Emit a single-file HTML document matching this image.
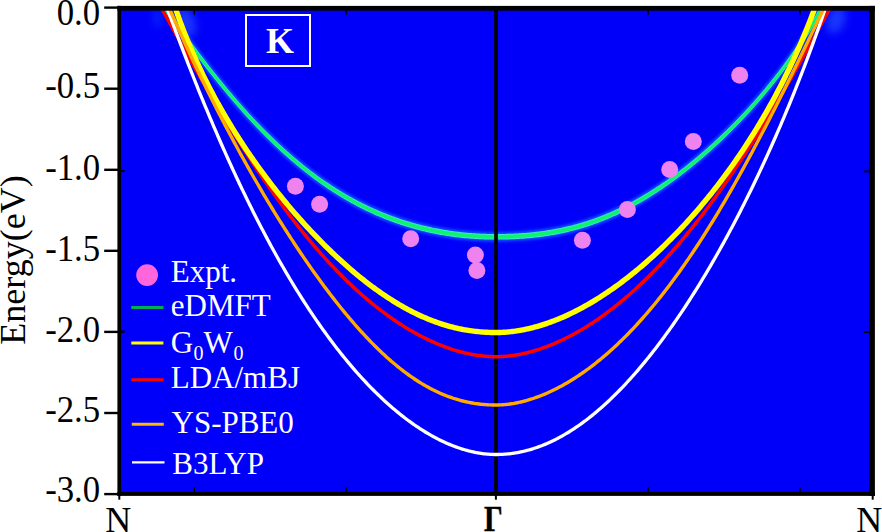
<!DOCTYPE html>
<html><head><meta charset="utf-8"><style>
html,body{margin:0;padding:0;background:#fff;}
body{width:882px;height:532px;overflow:hidden;}
svg{display:block;}
</style></head><body>
<svg width="882" height="532" viewBox="0 0 882 532">
<defs>
<clipPath id="pc"><rect x="121" y="8.5" width="749" height="484"/></clipPath>
<filter id="glow" x="-10%" y="-10%" width="120%" height="120%"><feGaussianBlur stdDeviation="1.6"/></filter>
<filter id="haze" x="-50%" y="-50%" width="200%" height="200%"><feGaussianBlur stdDeviation="4"/></filter>
<filter id="soft" x="-10%" y="-10%" width="120%" height="120%"><feGaussianBlur stdDeviation="0.5"/></filter>
</defs>
<rect x="0" y="0" width="882" height="532" fill="#fff"/>
<rect x="119" y="8" width="752" height="486" fill="#0000fa"/>
<g clip-path="url(#pc)" fill="none" stroke-linecap="butt" stroke-linejoin="round">
<ellipse cx="186" cy="22" rx="9" ry="16" fill="#3a78ff" opacity="0.45" filter="url(#haze)" transform="rotate(-20 186 22)"/>
<ellipse cx="158" cy="18" rx="5" ry="10" fill="#2a9cff" opacity="0.2" filter="url(#haze)"/>
<ellipse cx="836" cy="20" rx="9" ry="14" fill="#3a78ff" opacity="0.45" filter="url(#haze)" transform="rotate(20 836 20)"/>
<path d="M165.20 4.00 L166.26 5.52 L167.32 7.04 L168.38 8.55 L169.43 10.05 L170.48 11.56 L171.54 13.05 L172.59 14.54 L173.64 16.03 L174.69 17.51 L175.74 18.98 L176.78 20.45 L177.83 21.92 L178.88 23.38 L179.92 24.83 L180.96 26.28 L182.00 27.73 L183.04 29.17 L184.08 30.60 L185.12 32.03 L186.16 33.46 L187.20 34.87 L188.23 36.29 L189.27 37.70 L190.30 39.10 L191.33 40.50 L192.37 41.89 L193.40 43.28 L194.43 44.67 L195.46 46.05 L196.49 47.42 L197.52 48.79 L198.54 50.15 L199.57 51.51 L200.60 52.86 L201.62 54.21 L202.65 55.55 L203.67 56.89 L204.70 58.22 L205.72 59.55 L206.74 60.87 L207.76 62.19 L208.79 63.50 L209.81 64.81 L210.83 66.11 L211.85 67.41 L212.87 68.70 L213.89 69.99 L214.91 71.27 L215.92 72.55 L216.94 73.82 L217.96 75.08 L218.98 76.34 L219.99 77.60 L221.01 78.85 L222.03 80.10 L223.04 81.34 L224.06 82.57 L225.08 83.81 L226.09 85.03 L227.11 86.25 L228.12 87.47 L229.14 88.68 L230.15 89.88 L231.17 91.08 L232.18 92.28 L233.20 93.47 L234.21 94.65 L235.23 95.83 L236.24 97.01 L237.26 98.18 L238.27 99.34 L239.29 100.50 L240.30 101.65 L241.32 102.80 L242.33 103.95 L243.35 105.09 L244.36 106.22 L245.38 107.35 L246.39 108.47 L247.41 109.59 L248.43 110.71 L249.44 111.81 L250.46 112.92 L251.47 114.02 L252.49 115.11 L253.51 116.20 L254.52 117.28 L255.54 118.36 L256.56 119.43 L257.58 120.50 L258.60 121.56 L259.62 122.62 L260.64 123.67 L261.66 124.72 L262.68 125.76 L263.70 126.80 L264.72 127.83 L265.74 128.86 L266.76 129.88 L267.78 130.89 L268.81 131.91 L269.83 132.91 L270.85 133.91 L271.88 134.91 L272.90 135.90 L273.93 136.89 L274.95 137.87 L275.98 138.84 L277.01 139.81 L278.04 140.78 L279.06 141.74 L280.09 142.70 L281.12 143.65 L282.15 144.59 L283.19 145.53 L284.22 146.47 L285.25 147.40 L286.28 148.32 L287.32 149.24 L288.35 150.16 L289.39 151.07 L290.43 151.97 L291.46 152.87 L292.50 153.77 L293.54 154.65 L294.58 155.54 L295.62 156.42 L296.66 157.29 L297.71 158.16 L298.75 159.02 L299.79 159.88 L300.84 160.74 L301.89 161.59 L302.93 162.43 L303.98 163.27 L305.03 164.10 L306.08 164.93 L307.13 165.75 L308.18 166.57 L309.24 167.38 L310.29 168.19 L311.35 168.99 L312.40 169.79 L313.46 170.58 L314.52 171.37 L315.58 172.15 L316.64 172.93 L317.70 173.70 L318.76 174.47 L319.83 175.23 L320.89 175.99 L321.96 176.74 L323.03 177.49 L324.10 178.23 L325.17 178.96 L326.24 179.69 L327.31 180.42 L328.38 181.14 L329.46 181.86 L330.53 182.57 L331.61 183.27 L332.69 183.98 L333.77 184.67 L334.85 185.36 L335.93 186.05 L337.02 186.73 L338.10 187.40 L339.19 188.07 L340.28 188.74 L341.37 189.40 L342.46 190.05 L343.55 190.70 L344.64 191.35 L345.74 191.99 L346.83 192.62 L347.93 193.25 L349.03 193.87 L350.13 194.49 L351.23 195.11 L352.34 195.72 L353.44 196.32 L354.55 196.92 L355.65 197.51 L356.76 198.10 L357.87 198.69 L358.99 199.26 L360.10 199.84 L361.22 200.41 L362.33 200.97 L363.45 201.53 L364.57 202.08 L365.69 202.63 L366.82 203.17 L367.94 203.71 L369.07 204.24 L370.19 204.77 L371.32 205.29 L372.45 205.81 L373.59 206.32 L374.72 206.83 L375.86 207.33 L376.99 207.83 L378.13 208.32 L379.27 208.80 L380.42 209.29 L381.56 209.76 L382.71 210.23 L383.85 210.70 L385.00 211.16 L386.15 211.62 L387.31 212.07 L388.46 212.51 L389.62 212.95 L390.77 213.39 L391.93 213.82 L393.10 214.25 L394.26 214.67 L395.42 215.08 L396.59 215.49 L397.76 215.90 L398.93 216.30 L400.10 216.69 L401.27 217.08 L402.45 217.47 L403.62 217.85 L404.80 218.22 L405.98 218.59 L407.17 218.96 L408.35 219.31 L409.54 219.67 L410.72 220.02 L411.91 220.36 L413.11 220.70 L414.30 221.03 L415.49 221.36 L416.69 221.69 L417.89 222.01 L419.09 222.32 L420.29 222.63 L421.50 222.93 L422.70 223.23 L423.91 223.52 L425.12 223.81 L426.33 224.09 L427.55 224.37 L428.76 224.64 L429.98 224.91 L431.20 225.17 L432.42 225.43 L433.65 225.68 L434.87 225.93 L436.10 226.17 L437.33 226.41 L438.56 226.64 L439.79 226.87 L441.03 227.09 L442.26 227.31 L443.50 227.52 L444.74 227.72 L445.99 227.92 L447.23 228.12 L448.48 228.31 L449.73 228.50 L450.98 228.68 L452.23 228.85 L453.48 229.03 L454.74 229.19 L456.00 229.35 L457.26 229.51 L458.52 229.66 L459.79 229.80 L461.05 229.94 L462.32 230.08 L463.59 230.21 L464.86 230.33 L466.14 230.45 L467.41 230.57 L468.69 230.68 L469.97 230.78 L471.26 230.88 L472.54 230.97 L473.83 231.06 L475.11 231.15 L476.40 231.23 L477.70 231.30 L478.99 231.37 L480.29 231.43 L481.59 231.49 L482.89 231.55 L484.19 231.59 L485.49 231.64 L486.80 231.68 L488.11 231.71 L489.42 231.74 L490.73 231.76 L492.04 231.78 L493.36 231.79 L494.68 231.80 L496.00 231.80 L497.48 231.80 L498.95 231.79 L500.42 231.78 L501.87 231.76 L503.32 231.74 L504.76 231.71 L506.19 231.68 L507.62 231.64 L509.04 231.59 L510.45 231.55 L511.86 231.49 L513.26 231.43 L514.65 231.37 L516.03 231.30 L517.41 231.23 L518.78 231.15 L520.15 231.06 L521.51 230.97 L522.86 230.88 L524.20 230.78 L525.54 230.68 L526.88 230.57 L528.21 230.45 L529.53 230.33 L530.85 230.21 L532.16 230.08 L533.46 229.94 L534.76 229.80 L536.06 229.66 L537.34 229.51 L538.63 229.35 L539.91 229.19 L541.18 229.03 L542.45 228.85 L543.71 228.68 L544.97 228.50 L546.22 228.31 L547.47 228.12 L548.72 227.92 L549.96 227.72 L551.19 227.52 L552.42 227.31 L553.65 227.09 L554.87 226.87 L556.09 226.64 L557.30 226.41 L558.51 226.17 L559.72 225.93 L560.92 225.68 L562.12 225.43 L563.31 225.17 L564.50 224.91 L565.69 224.64 L566.87 224.37 L568.05 224.09 L569.23 223.81 L570.40 223.52 L571.57 223.23 L572.74 222.93 L573.90 222.63 L575.06 222.32 L576.22 222.01 L577.37 221.69 L578.53 221.36 L579.67 221.03 L580.82 220.70 L581.96 220.36 L583.10 220.02 L584.24 219.67 L585.37 219.31 L586.51 218.96 L587.64 218.59 L588.76 218.22 L589.89 217.85 L591.01 217.47 L592.13 217.08 L593.25 216.69 L594.37 216.30 L595.48 215.90 L596.59 215.49 L597.70 215.08 L598.81 214.67 L599.92 214.25 L601.02 213.82 L602.12 213.39 L603.22 212.95 L604.32 212.51 L605.42 212.07 L606.52 211.62 L607.61 211.16 L608.70 210.70 L609.79 210.23 L610.88 209.76 L611.97 209.29 L613.06 208.80 L614.14 208.32 L615.23 207.83 L616.31 207.33 L617.39 206.83 L618.47 206.32 L619.55 205.81 L620.63 205.29 L621.71 204.77 L622.79 204.24 L623.86 203.71 L624.94 203.17 L626.01 202.63 L627.08 202.08 L628.15 201.53 L629.23 200.97 L630.30 200.41 L631.37 199.84 L632.43 199.26 L633.50 198.69 L634.57 198.10 L635.64 197.51 L636.70 196.92 L637.77 196.32 L638.84 195.72 L639.90 195.11 L640.96 194.49 L642.03 193.87 L643.09 193.25 L644.15 192.62 L645.22 191.99 L646.28 191.35 L647.34 190.70 L648.40 190.05 L649.46 189.40 L650.53 188.74 L651.59 188.07 L652.65 187.40 L653.71 186.73 L654.77 186.05 L655.83 185.36 L656.89 184.67 L657.95 183.98 L659.01 183.27 L660.07 182.57 L661.12 181.86 L662.18 181.14 L663.24 180.42 L664.30 179.69 L665.36 178.96 L666.42 178.23 L667.48 177.49 L668.54 176.74 L669.60 175.99 L670.66 175.23 L671.71 174.47 L672.77 173.70 L673.83 172.93 L674.89 172.15 L675.95 171.37 L677.01 170.58 L678.07 169.79 L679.13 168.99 L680.19 168.19 L681.24 167.38 L682.30 166.57 L683.36 165.75 L684.42 164.93 L685.48 164.10 L686.54 163.27 L687.60 162.43 L688.66 161.59 L689.72 160.74 L690.78 159.88 L691.84 159.02 L692.90 158.16 L693.96 157.29 L695.02 156.42 L696.08 155.54 L697.14 154.65 L698.20 153.77 L699.26 152.87 L700.31 151.97 L701.37 151.07 L702.43 150.16 L703.49 149.24 L704.55 148.32 L705.61 147.40 L706.67 146.47 L707.73 145.53 L708.79 144.59 L709.85 143.65 L710.91 142.70 L711.97 141.74 L713.03 140.78 L714.08 139.81 L715.14 138.84 L716.20 137.87 L717.26 136.89 L718.32 135.90 L719.37 134.91 L720.43 133.91 L721.49 132.91 L722.54 131.91 L723.60 130.89 L724.65 129.88 L725.71 128.86 L726.76 127.83 L727.82 126.80 L728.87 125.76 L729.93 124.72 L730.98 123.67 L732.03 122.62 L733.08 121.56 L734.13 120.50 L735.18 119.43 L736.23 118.36 L737.28 117.28 L738.33 116.20 L739.38 115.11 L740.43 114.02 L741.47 112.92 L742.52 111.81 L743.56 110.71 L744.61 109.59 L745.65 108.47 L746.69 107.35 L747.73 106.22 L748.77 105.09 L749.81 103.95 L750.84 102.80 L751.88 101.65 L752.91 100.50 L753.95 99.34 L754.98 98.18 L756.01 97.01 L757.04 95.83 L758.07 94.65 L759.09 93.47 L760.12 92.28 L761.14 91.08 L762.17 89.88 L763.19 88.68 L764.20 87.47 L765.22 86.25 L766.24 85.03 L767.25 83.81 L768.26 82.57 L769.27 81.34 L770.28 80.10 L771.28 78.85 L772.29 77.60 L773.29 76.34 L774.29 75.08 L775.28 73.82 L776.28 72.55 L777.27 71.27 L778.26 69.99 L779.25 68.70 L780.23 67.41 L781.21 66.11 L782.19 64.81 L783.17 63.50 L784.14 62.19 L785.12 60.87 L786.08 59.55 L787.05 58.22 L788.01 56.89 L788.97 55.55 L789.93 54.21 L790.88 52.86 L791.83 51.51 L792.78 50.15 L793.72 48.79 L794.66 47.42 L795.60 46.05 L796.53 44.67 L797.46 43.28 L798.39 41.89 L799.31 40.50 L800.23 39.10 L801.14 37.70 L802.05 36.29 L802.96 34.87 L803.86 33.46 L804.76 32.03 L805.65 30.60 L806.54 29.17 L807.43 27.73 L808.31 26.28 L809.19 24.83 L810.06 23.38 L810.92 21.92 L811.79 20.45 L812.64 18.98 L813.50 17.51 L814.34 16.03 L815.18 14.54 L816.02 13.05 L816.85 11.56 L817.68 10.05 L818.50 8.55 L819.32 7.04 L820.13 5.52 L820.93 4.00 L820.93 14.00 L820.13 15.52 L819.32 17.04 L818.50 18.55 L817.68 20.05 L816.85 21.56 L816.02 23.05 L815.18 24.54 L814.34 26.03 L813.50 27.51 L812.64 28.98 L811.79 30.45 L810.92 31.92 L810.06 33.38 L809.19 34.83 L808.31 36.28 L807.43 37.73 L806.54 39.17 L805.65 40.60 L804.76 42.03 L803.86 43.46 L802.96 44.87 L802.05 46.29 L801.14 47.70 L800.23 49.10 L799.31 50.50 L798.39 51.89 L797.46 53.28 L796.53 54.67 L795.60 56.05 L794.66 57.42 L793.72 58.79 L792.78 60.15 L791.83 61.51 L790.88 62.86 L789.93 64.21 L788.97 65.55 L788.01 66.89 L787.05 68.22 L786.08 69.55 L785.12 70.87 L784.14 72.19 L783.17 73.50 L782.19 74.81 L781.21 76.11 L780.23 77.41 L779.25 78.70 L778.26 79.99 L777.27 81.27 L776.28 82.55 L775.28 83.82 L774.29 85.08 L773.29 86.34 L772.29 87.60 L771.28 88.85 L770.28 90.10 L769.27 91.34 L768.26 92.57 L767.25 93.81 L766.24 95.03 L765.22 96.25 L764.20 97.47 L763.19 98.68 L762.17 99.88 L761.14 101.08 L760.12 102.28 L759.09 103.47 L758.07 104.65 L757.04 105.83 L756.01 107.01 L754.98 108.18 L753.95 109.34 L752.91 110.50 L751.88 111.65 L750.84 112.80 L749.81 113.95 L748.77 115.09 L747.73 116.22 L746.69 117.35 L745.65 118.47 L744.61 119.59 L743.56 120.71 L742.52 121.81 L741.47 122.92 L740.43 124.02 L739.38 125.11 L738.33 126.20 L737.28 127.28 L736.23 128.36 L735.18 129.43 L734.13 130.50 L733.08 131.56 L732.03 132.62 L730.98 133.67 L729.93 134.72 L728.87 135.76 L727.82 136.80 L726.76 137.83 L725.71 138.86 L724.65 139.88 L723.60 140.89 L722.54 141.91 L721.49 142.91 L720.43 143.91 L719.37 144.91 L718.32 145.90 L717.26 146.89 L716.20 147.87 L715.14 148.84 L714.08 149.81 L713.03 150.78 L711.97 151.74 L710.91 152.70 L709.85 153.65 L708.79 154.59 L707.73 155.53 L706.67 156.47 L705.61 157.40 L704.55 158.32 L703.49 159.24 L702.43 160.16 L701.37 161.07 L700.31 161.97 L699.26 162.87 L698.20 163.77 L697.14 164.65 L696.08 165.54 L695.02 166.42 L693.96 167.29 L692.90 168.16 L691.84 169.02 L690.78 169.88 L689.72 170.74 L688.66 171.59 L687.60 172.43 L686.54 173.27 L685.48 174.10 L684.42 174.93 L683.36 175.75 L682.30 176.57 L681.24 177.38 L680.19 178.19 L679.13 178.99 L678.07 179.79 L677.01 180.58 L675.95 181.37 L674.89 182.15 L673.83 182.93 L672.77 183.70 L671.71 184.47 L670.66 185.23 L669.60 185.99 L668.54 186.74 L667.48 187.49 L666.42 188.23 L665.36 188.96 L664.30 189.69 L663.24 190.42 L662.18 191.14 L661.12 191.86 L660.07 192.57 L659.01 193.27 L657.95 193.98 L656.89 194.67 L655.83 195.36 L654.77 196.05 L653.71 196.73 L652.65 197.40 L651.59 198.07 L650.53 198.74 L649.46 199.40 L648.40 200.05 L647.34 200.70 L646.28 201.35 L645.22 201.99 L644.15 202.62 L643.09 203.25 L642.03 203.87 L640.96 204.49 L639.90 205.11 L638.84 205.72 L637.77 206.32 L636.70 206.92 L635.64 207.51 L634.57 208.10 L633.50 208.69 L632.43 209.26 L631.37 209.84 L630.30 210.41 L629.23 210.97 L628.15 211.53 L627.08 212.08 L626.01 212.63 L624.94 213.17 L623.86 213.71 L622.79 214.24 L621.71 214.77 L620.63 215.29 L619.55 215.81 L618.47 216.32 L617.39 216.83 L616.31 217.33 L615.23 217.83 L614.14 218.32 L613.06 218.80 L611.97 219.29 L610.88 219.76 L609.79 220.23 L608.70 220.70 L607.61 221.16 L606.52 221.62 L605.42 222.07 L604.32 222.51 L603.22 222.95 L602.12 223.39 L601.02 223.82 L599.92 224.25 L598.81 224.67 L597.70 225.08 L596.59 225.49 L595.48 225.90 L594.37 226.30 L593.25 226.69 L592.13 227.08 L591.01 227.47 L589.89 227.85 L588.76 228.22 L587.64 228.59 L586.51 228.96 L585.37 229.31 L584.24 229.67 L583.10 230.02 L581.96 230.36 L580.82 230.70 L579.67 231.03 L578.53 231.36 L577.37 231.69 L576.22 232.01 L575.06 232.32 L573.90 232.63 L572.74 232.93 L571.57 233.23 L570.40 233.52 L569.23 233.81 L568.05 234.09 L566.87 234.37 L565.69 234.64 L564.50 234.91 L563.31 235.17 L562.12 235.43 L560.92 235.68 L559.72 235.93 L558.51 236.17 L557.30 236.41 L556.09 236.64 L554.87 236.87 L553.65 237.09 L552.42 237.31 L551.19 237.52 L549.96 237.72 L548.72 237.92 L547.47 238.12 L546.22 238.31 L544.97 238.50 L543.71 238.68 L542.45 238.85 L541.18 239.03 L539.91 239.19 L538.63 239.35 L537.34 239.51 L536.06 239.66 L534.76 239.80 L533.46 239.94 L532.16 240.08 L530.85 240.21 L529.53 240.33 L528.21 240.45 L526.88 240.57 L525.54 240.68 L524.20 240.78 L522.86 240.88 L521.51 240.97 L520.15 241.06 L518.78 241.15 L517.41 241.23 L516.03 241.30 L514.65 241.37 L513.26 241.43 L511.86 241.49 L510.45 241.55 L509.04 241.59 L507.62 241.64 L506.19 241.68 L504.76 241.71 L503.32 241.74 L501.87 241.76 L500.42 241.78 L498.95 241.79 L497.48 241.80 L496.00 241.80 L494.68 241.80 L493.36 241.79 L492.04 241.78 L490.73 241.76 L489.42 241.74 L488.11 241.71 L486.80 241.68 L485.49 241.64 L484.19 241.59 L482.89 241.55 L481.59 241.49 L480.29 241.43 L478.99 241.37 L477.70 241.30 L476.40 241.23 L475.11 241.15 L473.83 241.06 L472.54 240.97 L471.26 240.88 L469.97 240.78 L468.69 240.68 L467.41 240.57 L466.14 240.45 L464.86 240.33 L463.59 240.21 L462.32 240.08 L461.05 239.94 L459.79 239.80 L458.52 239.66 L457.26 239.51 L456.00 239.35 L454.74 239.19 L453.48 239.03 L452.23 238.85 L450.98 238.68 L449.73 238.50 L448.48 238.31 L447.23 238.12 L445.99 237.92 L444.74 237.72 L443.50 237.52 L442.26 237.31 L441.03 237.09 L439.79 236.87 L438.56 236.64 L437.33 236.41 L436.10 236.17 L434.87 235.93 L433.65 235.68 L432.42 235.43 L431.20 235.17 L429.98 234.91 L428.76 234.64 L427.55 234.37 L426.33 234.09 L425.12 233.81 L423.91 233.52 L422.70 233.23 L421.50 232.93 L420.29 232.63 L419.09 232.32 L417.89 232.01 L416.69 231.69 L415.49 231.36 L414.30 231.03 L413.11 230.70 L411.91 230.36 L410.72 230.02 L409.54 229.67 L408.35 229.31 L407.17 228.96 L405.98 228.59 L404.80 228.22 L403.62 227.85 L402.45 227.47 L401.27 227.08 L400.10 226.69 L398.93 226.30 L397.76 225.90 L396.59 225.49 L395.42 225.08 L394.26 224.67 L393.10 224.25 L391.93 223.82 L390.77 223.39 L389.62 222.95 L388.46 222.51 L387.31 222.07 L386.15 221.62 L385.00 221.16 L383.85 220.70 L382.71 220.23 L381.56 219.76 L380.42 219.29 L379.27 218.80 L378.13 218.32 L376.99 217.83 L375.86 217.33 L374.72 216.83 L373.59 216.32 L372.45 215.81 L371.32 215.29 L370.19 214.77 L369.07 214.24 L367.94 213.71 L366.82 213.17 L365.69 212.63 L364.57 212.08 L363.45 211.53 L362.33 210.97 L361.22 210.41 L360.10 209.84 L358.99 209.26 L357.87 208.69 L356.76 208.10 L355.65 207.51 L354.55 206.92 L353.44 206.32 L352.34 205.72 L351.23 205.11 L350.13 204.49 L349.03 203.87 L347.93 203.25 L346.83 202.62 L345.74 201.99 L344.64 201.35 L343.55 200.70 L342.46 200.05 L341.37 199.40 L340.28 198.74 L339.19 198.07 L338.10 197.40 L337.02 196.73 L335.93 196.05 L334.85 195.36 L333.77 194.67 L332.69 193.98 L331.61 193.27 L330.53 192.57 L329.46 191.86 L328.38 191.14 L327.31 190.42 L326.24 189.69 L325.17 188.96 L324.10 188.23 L323.03 187.49 L321.96 186.74 L320.89 185.99 L319.83 185.23 L318.76 184.47 L317.70 183.70 L316.64 182.93 L315.58 182.15 L314.52 181.37 L313.46 180.58 L312.40 179.79 L311.35 178.99 L310.29 178.19 L309.24 177.38 L308.18 176.57 L307.13 175.75 L306.08 174.93 L305.03 174.10 L303.98 173.27 L302.93 172.43 L301.89 171.59 L300.84 170.74 L299.79 169.88 L298.75 169.02 L297.71 168.16 L296.66 167.29 L295.62 166.42 L294.58 165.54 L293.54 164.65 L292.50 163.77 L291.46 162.87 L290.43 161.97 L289.39 161.07 L288.35 160.16 L287.32 159.24 L286.28 158.32 L285.25 157.40 L284.22 156.47 L283.19 155.53 L282.15 154.59 L281.12 153.65 L280.09 152.70 L279.06 151.74 L278.04 150.78 L277.01 149.81 L275.98 148.84 L274.95 147.87 L273.93 146.89 L272.90 145.90 L271.88 144.91 L270.85 143.91 L269.83 142.91 L268.81 141.91 L267.78 140.89 L266.76 139.88 L265.74 138.86 L264.72 137.83 L263.70 136.80 L262.68 135.76 L261.66 134.72 L260.64 133.67 L259.62 132.62 L258.60 131.56 L257.58 130.50 L256.56 129.43 L255.54 128.36 L254.52 127.28 L253.51 126.20 L252.49 125.11 L251.47 124.02 L250.46 122.92 L249.44 121.81 L248.43 120.71 L247.41 119.59 L246.39 118.47 L245.38 117.35 L244.36 116.22 L243.35 115.09 L242.33 113.95 L241.32 112.80 L240.30 111.65 L239.29 110.50 L238.27 109.34 L237.26 108.18 L236.24 107.01 L235.23 105.83 L234.21 104.65 L233.20 103.47 L232.18 102.28 L231.17 101.08 L230.15 99.88 L229.14 98.68 L228.12 97.47 L227.11 96.25 L226.09 95.03 L225.08 93.81 L224.06 92.57 L223.04 91.34 L222.03 90.10 L221.01 88.85 L219.99 87.60 L218.98 86.34 L217.96 85.08 L216.94 83.82 L215.92 82.55 L214.91 81.27 L213.89 79.99 L212.87 78.70 L211.85 77.41 L210.83 76.11 L209.81 74.81 L208.79 73.50 L207.76 72.19 L206.74 70.87 L205.72 69.55 L204.70 68.22 L203.67 66.89 L202.65 65.55 L201.62 64.21 L200.60 62.86 L199.57 61.51 L198.54 60.15 L197.52 58.79 L196.49 57.42 L195.46 56.05 L194.43 54.67 L193.40 53.28 L192.37 51.89 L191.33 50.50 L190.30 49.10 L189.27 47.70 L188.23 46.29 L187.20 44.87 L186.16 43.46 L185.12 42.03 L184.08 40.60 L183.04 39.17 L182.00 37.73 L180.96 36.28 L179.92 34.83 L178.88 33.38 L177.83 31.92 L176.78 30.45 L175.74 28.98 L174.69 27.51 L173.64 26.03 L172.59 24.54 L171.54 23.05 L170.48 21.56 L169.43 20.05 L168.38 18.55 L167.32 17.04 L166.26 15.52 L165.20 14.00Z" fill="#1a6cff" opacity="0.55" filter="url(#glow)"/>
<path d="M165.20 9.00 L166.79 11.28 L168.38 13.56 L169.97 15.82 L171.55 18.07 L173.13 20.30 L174.71 22.53 L176.28 24.74 L177.85 26.95 L179.42 29.14 L180.99 31.32 L182.55 33.49 L184.11 35.65 L185.67 37.79 L187.23 39.92 L188.79 42.05 L190.34 44.16 L191.89 46.26 L193.44 48.35 L194.99 50.42 L196.54 52.49 L198.08 54.54 L199.63 56.58 L201.17 58.61 L202.71 60.63 L204.25 62.64 L205.79 64.64 L207.32 66.62 L208.86 68.59 L210.39 70.56 L211.92 72.51 L213.46 74.44 L214.99 76.37 L216.52 78.29 L218.05 80.19 L219.58 82.08 L221.10 83.97 L222.63 85.83 L224.16 87.69 L225.68 89.54 L227.21 91.37 L228.74 93.20 L230.26 95.01 L231.79 96.81 L233.31 98.60 L234.84 100.38 L236.36 102.14 L237.89 103.90 L239.41 105.64 L240.93 107.37 L242.46 109.09 L243.99 110.80 L245.51 112.50 L247.04 114.18 L248.56 115.86 L250.09 117.52 L251.62 119.17 L253.14 120.81 L254.67 122.44 L256.20 124.05 L257.73 125.66 L259.26 127.25 L260.79 128.83 L262.33 130.40 L263.86 131.96 L265.39 133.51 L266.93 135.05 L268.47 136.57 L270.00 138.08 L271.54 139.58 L273.08 141.07 L274.62 142.55 L276.17 144.02 L277.71 145.48 L279.26 146.92 L280.80 148.35 L282.35 149.77 L283.90 151.18 L285.45 152.58 L287.01 153.97 L288.56 155.34 L290.12 156.70 L291.68 158.06 L293.24 159.40 L294.80 160.72 L296.36 162.04 L297.93 163.35 L299.50 164.64 L301.07 165.92 L302.64 167.20 L304.22 168.46 L305.79 169.70 L307.37 170.94 L308.96 172.17 L310.54 173.38 L312.13 174.58 L313.71 175.77 L315.31 176.95 L316.90 178.12 L318.50 179.28 L320.09 180.42 L321.70 181.55 L323.30 182.68 L324.91 183.79 L326.52 184.88 L328.13 185.97 L329.74 187.05 L331.36 188.11 L332.98 189.16 L334.61 190.21 L336.23 191.24 L337.86 192.25 L339.50 193.26 L341.13 194.26 L342.77 195.24 L344.41 196.21 L346.06 197.17 L347.70 198.12 L349.36 199.06 L351.01 199.98 L352.67 200.90 L354.33 201.80 L355.99 202.69 L357.66 203.57 L359.33 204.44 L361.01 205.30 L362.69 206.15 L364.37 206.98 L366.05 207.80 L367.74 208.61 L369.43 209.41 L371.13 210.20 L372.83 210.98 L374.53 211.74 L376.24 212.50 L377.95 213.24 L379.66 213.97 L381.38 214.69 L383.10 215.40 L384.83 216.09 L386.56 216.78 L388.29 217.45 L390.03 218.11 L391.77 218.76 L393.52 219.40 L395.26 220.03 L397.02 220.64 L398.77 221.25 L400.54 221.84 L402.30 222.42 L404.07 222.99 L405.84 223.55 L407.62 224.09 L409.40 224.63 L411.18 225.15 L412.97 225.66 L414.77 226.16 L416.56 226.65 L418.37 227.13 L420.17 227.60 L421.98 228.05 L423.80 228.49 L425.62 228.92 L427.44 229.34 L429.27 229.75 L431.10 230.15 L432.93 230.54 L434.77 230.91 L436.62 231.27 L438.47 231.62 L440.32 231.96 L442.18 232.29 L444.04 232.61 L445.91 232.91 L447.78 233.20 L449.65 233.49 L451.53 233.76 L453.42 234.02 L455.30 234.26 L457.20 234.50 L459.09 234.72 L461.00 234.94 L462.90 235.14 L464.81 235.33 L466.73 235.51 L468.65 235.67 L470.57 235.83 L472.50 235.97 L474.43 236.10 L476.37 236.22 L478.31 236.33 L480.26 236.43 L482.21 236.52 L484.17 236.59 L486.13 236.66 L488.09 236.71 L490.06 236.75 L492.04 236.78 L494.02 236.79 L496.00 236.80 L498.22 236.79 L500.42 236.78 L502.61 236.75 L504.78 236.71 L506.93 236.66 L509.06 236.59 L511.18 236.52 L513.28 236.43 L515.37 236.33 L517.44 236.22 L519.50 236.10 L521.55 235.97 L523.58 235.83 L525.59 235.67 L527.59 235.51 L529.58 235.33 L531.56 235.14 L533.52 234.94 L535.47 234.72 L537.41 234.50 L539.33 234.26 L541.25 234.02 L543.15 233.76 L545.05 233.49 L546.93 233.20 L548.80 232.91 L550.66 232.61 L552.51 232.29 L554.35 231.96 L556.18 231.62 L558.00 231.27 L559.82 230.91 L561.62 230.54 L563.41 230.15 L565.20 229.75 L566.98 229.34 L568.75 228.92 L570.51 228.49 L572.27 228.05 L574.02 227.60 L575.76 227.13 L577.50 226.65 L579.22 226.16 L580.95 225.66 L582.66 225.15 L584.37 224.63 L586.07 224.09 L587.77 223.55 L589.46 222.99 L591.15 222.42 L592.83 221.84 L594.51 221.25 L596.18 220.64 L597.85 220.03 L599.52 219.40 L601.18 218.76 L602.83 218.11 L604.48 217.45 L606.13 216.78 L607.77 216.09 L609.41 215.40 L611.05 214.69 L612.69 213.97 L614.32 213.24 L615.95 212.50 L617.57 211.74 L619.20 210.98 L620.82 210.20 L622.43 209.41 L624.05 208.61 L625.66 207.80 L627.28 206.98 L628.89 206.15 L630.49 205.30 L632.10 204.44 L633.71 203.57 L635.31 202.69 L636.91 201.80 L638.51 200.90 L640.11 199.98 L641.71 199.06 L643.31 198.12 L644.91 197.17 L646.50 196.21 L648.10 195.24 L649.69 194.26 L651.29 193.26 L652.88 192.25 L654.47 191.24 L656.07 190.21 L657.66 189.16 L659.25 188.11 L660.84 187.05 L662.43 185.97 L664.03 184.88 L665.62 183.79 L667.21 182.68 L668.80 181.55 L670.39 180.42 L671.98 179.28 L673.57 178.12 L675.16 176.95 L676.75 175.77 L678.34 174.58 L679.93 173.38 L681.53 172.17 L683.12 170.94 L684.71 169.70 L686.30 168.46 L687.89 167.20 L689.48 165.92 L691.08 164.64 L692.67 163.35 L694.26 162.04 L695.85 160.72 L697.44 159.40 L699.04 158.06 L700.63 156.70 L702.22 155.34 L703.81 153.97 L705.40 152.58 L707.00 151.18 L708.59 149.77 L710.18 148.35 L711.77 146.92 L713.36 145.48 L714.95 144.02 L716.54 142.55 L718.13 141.07 L719.72 139.58 L721.31 138.08 L722.89 136.57 L724.48 135.05 L726.06 133.51 L727.65 131.96 L729.23 130.40 L730.82 128.83 L732.40 127.25 L733.98 125.66 L735.55 124.05 L737.13 122.44 L738.71 120.81 L740.28 119.17 L741.85 117.52 L743.42 115.86 L744.99 114.18 L746.55 112.50 L748.12 110.80 L749.68 109.09 L751.23 107.37 L752.79 105.64 L754.34 103.90 L755.89 102.14 L757.44 100.38 L758.98 98.60 L760.52 96.81 L762.06 95.01 L763.59 93.20 L765.12 91.37 L766.64 89.54 L768.16 87.69 L769.68 85.83 L771.19 83.97 L772.70 82.08 L774.20 80.19 L775.70 78.29 L777.19 76.37 L778.68 74.44 L780.16 72.51 L781.63 70.56 L783.10 68.59 L784.56 66.62 L786.02 64.64 L787.47 62.64 L788.91 60.63 L790.35 58.61 L791.78 56.58 L793.20 54.54 L794.62 52.49 L796.02 50.42 L797.42 48.35 L798.81 46.26 L800.19 44.16 L801.56 42.05 L802.93 39.92 L804.28 37.79 L805.63 35.65 L806.96 33.49 L808.29 31.32 L809.60 29.14 L810.91 26.95 L812.20 24.74 L813.48 22.53 L814.75 20.30 L816.01 18.07 L817.26 15.82 L818.50 13.56 L819.72 11.28 L820.93 9.00" stroke="#1a6cff" stroke-width="7" opacity="0.5" filter="url(#glow)"/>
<path d="M165.20 6.20 L166.26 7.72 L167.32 9.24 L168.38 10.75 L169.43 12.25 L170.48 13.76 L171.54 15.25 L172.59 16.74 L173.64 18.23 L174.69 19.71 L175.74 21.18 L176.78 22.65 L177.83 24.12 L178.88 25.58 L179.92 27.03 L180.96 28.48 L182.00 29.93 L183.04 31.37 L184.08 32.80 L185.12 34.23 L186.16 35.66 L187.20 37.07 L188.23 38.49 L189.27 39.90 L190.30 41.30 L191.33 42.70 L192.37 44.09 L193.40 45.48 L194.43 46.87 L195.46 48.25 L196.49 49.62 L197.52 50.99 L198.54 52.35 L199.57 53.71 L200.60 55.06 L201.62 56.41 L202.65 57.75 L203.67 59.09 L204.70 60.42 L205.72 61.75 L206.74 63.07 L207.76 64.39 L208.79 65.70 L209.81 67.01 L210.83 68.31 L211.85 69.61 L212.87 70.90 L213.89 72.19 L214.91 73.47 L215.92 74.75 L216.94 76.02 L217.96 77.28 L218.98 78.54 L219.99 79.80 L221.01 81.05 L222.03 82.30 L223.04 83.54 L224.06 84.77 L225.08 86.01 L226.09 87.23 L227.11 88.45 L228.12 89.67 L229.14 90.88 L230.15 92.08 L231.17 93.28 L232.18 94.48 L233.20 95.67 L234.21 96.85 L235.23 98.03 L236.24 99.21 L237.26 100.38 L238.27 101.54 L239.29 102.70 L240.30 103.85 L241.32 105.00 L242.33 106.15 L243.35 107.29 L244.36 108.42 L245.38 109.55 L246.39 110.67 L247.41 111.79 L248.43 112.91 L249.44 114.01 L250.46 115.12 L251.47 116.22 L252.49 117.31 L253.51 118.40 L254.52 119.48 L255.54 120.56 L256.56 121.63 L257.58 122.70 L258.60 123.76 L259.62 124.82 L260.64 125.87 L261.66 126.92 L262.68 127.96 L263.70 129.00 L264.72 130.03 L265.74 131.06 L266.76 132.08 L267.78 133.09 L268.81 134.11 L269.83 135.11 L270.85 136.11 L271.88 137.11 L272.90 138.10 L273.93 139.09 L274.95 140.07 L275.98 141.04 L277.01 142.01 L278.04 142.98 L279.06 143.94 L280.09 144.90 L281.12 145.85 L282.15 146.79 L283.19 147.73 L284.22 148.67 L285.25 149.60 L286.28 150.52 L287.32 151.44 L288.35 152.36 L289.39 153.27 L290.43 154.17 L291.46 155.07 L292.50 155.97 L293.54 156.85 L294.58 157.74 L295.62 158.62 L296.66 159.49 L297.71 160.36 L298.75 161.22 L299.79 162.08 L300.84 162.94 L301.89 163.79 L302.93 164.63 L303.98 165.47 L305.03 166.30 L306.08 167.13 L307.13 167.95 L308.18 168.77 L309.24 169.58 L310.29 170.39 L311.35 171.19 L312.40 171.99 L313.46 172.78 L314.52 173.57 L315.58 174.35 L316.64 175.13 L317.70 175.90 L318.76 176.67 L319.83 177.43 L320.89 178.19 L321.96 178.94 L323.03 179.69 L324.10 180.43 L325.17 181.16 L326.24 181.89 L327.31 182.62 L328.38 183.34 L329.46 184.06 L330.53 184.77 L331.61 185.47 L332.69 186.18 L333.77 186.87 L334.85 187.56 L335.93 188.25 L337.02 188.93 L338.10 189.60 L339.19 190.27 L340.28 190.94 L341.37 191.60 L342.46 192.25 L343.55 192.90 L344.64 193.55 L345.74 194.19 L346.83 194.82 L347.93 195.45 L349.03 196.07 L350.13 196.69 L351.23 197.31 L352.34 197.92 L353.44 198.52 L354.55 199.12 L355.65 199.71 L356.76 200.30 L357.87 200.89 L358.99 201.46 L360.10 202.04 L361.22 202.61 L362.33 203.17 L363.45 203.73 L364.57 204.28 L365.69 204.83 L366.82 205.37 L367.94 205.91 L369.07 206.44 L370.19 206.97 L371.32 207.49 L372.45 208.01 L373.59 208.52 L374.72 209.03 L375.86 209.53 L376.99 210.03 L378.13 210.52 L379.27 211.00 L380.42 211.49 L381.56 211.96 L382.71 212.43 L383.85 212.90 L385.00 213.36 L386.15 213.82 L387.31 214.27 L388.46 214.71 L389.62 215.15 L390.77 215.59 L391.93 216.02 L393.10 216.45 L394.26 216.87 L395.42 217.28 L396.59 217.69 L397.76 218.10 L398.93 218.50 L400.10 218.89 L401.27 219.28 L402.45 219.67 L403.62 220.05 L404.80 220.42 L405.98 220.79 L407.17 221.16 L408.35 221.51 L409.54 221.87 L410.72 222.22 L411.91 222.56 L413.11 222.90 L414.30 223.23 L415.49 223.56 L416.69 223.89 L417.89 224.21 L419.09 224.52 L420.29 224.83 L421.50 225.13 L422.70 225.43 L423.91 225.72 L425.12 226.01 L426.33 226.29 L427.55 226.57 L428.76 226.84 L429.98 227.11 L431.20 227.37 L432.42 227.63 L433.65 227.88 L434.87 228.13 L436.10 228.37 L437.33 228.61 L438.56 228.84 L439.79 229.07 L441.03 229.29 L442.26 229.51 L443.50 229.72 L444.74 229.92 L445.99 230.12 L447.23 230.32 L448.48 230.51 L449.73 230.70 L450.98 230.88 L452.23 231.05 L453.48 231.23 L454.74 231.39 L456.00 231.55 L457.26 231.71 L458.52 231.86 L459.79 232.00 L461.05 232.14 L462.32 232.28 L463.59 232.41 L464.86 232.53 L466.14 232.65 L467.41 232.77 L468.69 232.88 L469.97 232.98 L471.26 233.08 L472.54 233.17 L473.83 233.26 L475.11 233.35 L476.40 233.43 L477.70 233.50 L478.99 233.57 L480.29 233.63 L481.59 233.69 L482.89 233.75 L484.19 233.79 L485.49 233.84 L486.80 233.88 L488.11 233.91 L489.42 233.94 L490.73 233.96 L492.04 233.98 L493.36 233.99 L494.68 234.00 L496.00 234.00 L497.48 234.00 L498.95 233.99 L500.42 233.98 L501.87 233.96 L503.32 233.94 L504.76 233.91 L506.19 233.88 L507.62 233.84 L509.04 233.79 L510.45 233.75 L511.86 233.69 L513.26 233.63 L514.65 233.57 L516.03 233.50 L517.41 233.43 L518.78 233.35 L520.15 233.26 L521.51 233.17 L522.86 233.08 L524.20 232.98 L525.54 232.88 L526.88 232.77 L528.21 232.65 L529.53 232.53 L530.85 232.41 L532.16 232.28 L533.46 232.14 L534.76 232.00 L536.06 231.86 L537.34 231.71 L538.63 231.55 L539.91 231.39 L541.18 231.23 L542.45 231.05 L543.71 230.88 L544.97 230.70 L546.22 230.51 L547.47 230.32 L548.72 230.12 L549.96 229.92 L551.19 229.72 L552.42 229.51 L553.65 229.29 L554.87 229.07 L556.09 228.84 L557.30 228.61 L558.51 228.37 L559.72 228.13 L560.92 227.88 L562.12 227.63 L563.31 227.37 L564.50 227.11 L565.69 226.84 L566.87 226.57 L568.05 226.29 L569.23 226.01 L570.40 225.72 L571.57 225.43 L572.74 225.13 L573.90 224.83 L575.06 224.52 L576.22 224.21 L577.37 223.89 L578.53 223.56 L579.67 223.23 L580.82 222.90 L581.96 222.56 L583.10 222.22 L584.24 221.87 L585.37 221.51 L586.51 221.16 L587.64 220.79 L588.76 220.42 L589.89 220.05 L591.01 219.67 L592.13 219.28 L593.25 218.89 L594.37 218.50 L595.48 218.10 L596.59 217.69 L597.70 217.28 L598.81 216.87 L599.92 216.45 L601.02 216.02 L602.12 215.59 L603.22 215.15 L604.32 214.71 L605.42 214.27 L606.52 213.82 L607.61 213.36 L608.70 212.90 L609.79 212.43 L610.88 211.96 L611.97 211.49 L613.06 211.00 L614.14 210.52 L615.23 210.03 L616.31 209.53 L617.39 209.03 L618.47 208.52 L619.55 208.01 L620.63 207.49 L621.71 206.97 L622.79 206.44 L623.86 205.91 L624.94 205.37 L626.01 204.83 L627.08 204.28 L628.15 203.73 L629.23 203.17 L630.30 202.61 L631.37 202.04 L632.43 201.46 L633.50 200.89 L634.57 200.30 L635.64 199.71 L636.70 199.12 L637.77 198.52 L638.84 197.92 L639.90 197.31 L640.96 196.69 L642.03 196.07 L643.09 195.45 L644.15 194.82 L645.22 194.19 L646.28 193.55 L647.34 192.90 L648.40 192.25 L649.46 191.60 L650.53 190.94 L651.59 190.27 L652.65 189.60 L653.71 188.93 L654.77 188.25 L655.83 187.56 L656.89 186.87 L657.95 186.18 L659.01 185.47 L660.07 184.77 L661.12 184.06 L662.18 183.34 L663.24 182.62 L664.30 181.89 L665.36 181.16 L666.42 180.43 L667.48 179.69 L668.54 178.94 L669.60 178.19 L670.66 177.43 L671.71 176.67 L672.77 175.90 L673.83 175.13 L674.89 174.35 L675.95 173.57 L677.01 172.78 L678.07 171.99 L679.13 171.19 L680.19 170.39 L681.24 169.58 L682.30 168.77 L683.36 167.95 L684.42 167.13 L685.48 166.30 L686.54 165.47 L687.60 164.63 L688.66 163.79 L689.72 162.94 L690.78 162.08 L691.84 161.22 L692.90 160.36 L693.96 159.49 L695.02 158.62 L696.08 157.74 L697.14 156.85 L698.20 155.97 L699.26 155.07 L700.31 154.17 L701.37 153.27 L702.43 152.36 L703.49 151.44 L704.55 150.52 L705.61 149.60 L706.67 148.67 L707.73 147.73 L708.79 146.79 L709.85 145.85 L710.91 144.90 L711.97 143.94 L713.03 142.98 L714.08 142.01 L715.14 141.04 L716.20 140.07 L717.26 139.09 L718.32 138.10 L719.37 137.11 L720.43 136.11 L721.49 135.11 L722.54 134.11 L723.60 133.09 L724.65 132.08 L725.71 131.06 L726.76 130.03 L727.82 129.00 L728.87 127.96 L729.93 126.92 L730.98 125.87 L732.03 124.82 L733.08 123.76 L734.13 122.70 L735.18 121.63 L736.23 120.56 L737.28 119.48 L738.33 118.40 L739.38 117.31 L740.43 116.22 L741.47 115.12 L742.52 114.01 L743.56 112.91 L744.61 111.79 L745.65 110.67 L746.69 109.55 L747.73 108.42 L748.77 107.29 L749.81 106.15 L750.84 105.00 L751.88 103.85 L752.91 102.70 L753.95 101.54 L754.98 100.38 L756.01 99.21 L757.04 98.03 L758.07 96.85 L759.09 95.67 L760.12 94.48 L761.14 93.28 L762.17 92.08 L763.19 90.88 L764.20 89.67 L765.22 88.45 L766.24 87.23 L767.25 86.01 L768.26 84.77 L769.27 83.54 L770.28 82.30 L771.28 81.05 L772.29 79.80 L773.29 78.54 L774.29 77.28 L775.28 76.02 L776.28 74.75 L777.27 73.47 L778.26 72.19 L779.25 70.90 L780.23 69.61 L781.21 68.31 L782.19 67.01 L783.17 65.70 L784.14 64.39 L785.12 63.07 L786.08 61.75 L787.05 60.42 L788.01 59.09 L788.97 57.75 L789.93 56.41 L790.88 55.06 L791.83 53.71 L792.78 52.35 L793.72 50.99 L794.66 49.62 L795.60 48.25 L796.53 46.87 L797.46 45.48 L798.39 44.09 L799.31 42.70 L800.23 41.30 L801.14 39.90 L802.05 38.49 L802.96 37.07 L803.86 35.66 L804.76 34.23 L805.65 32.80 L806.54 31.37 L807.43 29.93 L808.31 28.48 L809.19 27.03 L810.06 25.58 L810.92 24.12 L811.79 22.65 L812.64 21.18 L813.50 19.71 L814.34 18.23 L815.18 16.74 L816.02 15.25 L816.85 13.76 L817.68 12.25 L818.50 10.75 L819.32 9.24 L820.13 7.72 L820.93 6.20 L820.93 11.80 L820.13 13.32 L819.32 14.84 L818.50 16.35 L817.68 17.85 L816.85 19.36 L816.02 20.85 L815.18 22.34 L814.34 23.83 L813.50 25.31 L812.64 26.78 L811.79 28.25 L810.92 29.72 L810.06 31.18 L809.19 32.63 L808.31 34.08 L807.43 35.53 L806.54 36.97 L805.65 38.40 L804.76 39.83 L803.86 41.26 L802.96 42.67 L802.05 44.09 L801.14 45.50 L800.23 46.90 L799.31 48.30 L798.39 49.69 L797.46 51.08 L796.53 52.47 L795.60 53.85 L794.66 55.22 L793.72 56.59 L792.78 57.95 L791.83 59.31 L790.88 60.66 L789.93 62.01 L788.97 63.35 L788.01 64.69 L787.05 66.02 L786.08 67.35 L785.12 68.67 L784.14 69.99 L783.17 71.30 L782.19 72.61 L781.21 73.91 L780.23 75.21 L779.25 76.50 L778.26 77.79 L777.27 79.07 L776.28 80.35 L775.28 81.62 L774.29 82.88 L773.29 84.14 L772.29 85.40 L771.28 86.65 L770.28 87.90 L769.27 89.14 L768.26 90.37 L767.25 91.61 L766.24 92.83 L765.22 94.05 L764.20 95.27 L763.19 96.48 L762.17 97.68 L761.14 98.88 L760.12 100.08 L759.09 101.27 L758.07 102.45 L757.04 103.63 L756.01 104.81 L754.98 105.98 L753.95 107.14 L752.91 108.30 L751.88 109.45 L750.84 110.60 L749.81 111.75 L748.77 112.89 L747.73 114.02 L746.69 115.15 L745.65 116.27 L744.61 117.39 L743.56 118.51 L742.52 119.61 L741.47 120.72 L740.43 121.82 L739.38 122.91 L738.33 124.00 L737.28 125.08 L736.23 126.16 L735.18 127.23 L734.13 128.30 L733.08 129.36 L732.03 130.42 L730.98 131.47 L729.93 132.52 L728.87 133.56 L727.82 134.60 L726.76 135.63 L725.71 136.66 L724.65 137.68 L723.60 138.69 L722.54 139.71 L721.49 140.71 L720.43 141.71 L719.37 142.71 L718.32 143.70 L717.26 144.69 L716.20 145.67 L715.14 146.64 L714.08 147.61 L713.03 148.58 L711.97 149.54 L710.91 150.50 L709.85 151.45 L708.79 152.39 L707.73 153.33 L706.67 154.27 L705.61 155.20 L704.55 156.12 L703.49 157.04 L702.43 157.96 L701.37 158.87 L700.31 159.77 L699.26 160.67 L698.20 161.57 L697.14 162.45 L696.08 163.34 L695.02 164.22 L693.96 165.09 L692.90 165.96 L691.84 166.82 L690.78 167.68 L689.72 168.54 L688.66 169.39 L687.60 170.23 L686.54 171.07 L685.48 171.90 L684.42 172.73 L683.36 173.55 L682.30 174.37 L681.24 175.18 L680.19 175.99 L679.13 176.79 L678.07 177.59 L677.01 178.38 L675.95 179.17 L674.89 179.95 L673.83 180.73 L672.77 181.50 L671.71 182.27 L670.66 183.03 L669.60 183.79 L668.54 184.54 L667.48 185.29 L666.42 186.03 L665.36 186.76 L664.30 187.49 L663.24 188.22 L662.18 188.94 L661.12 189.66 L660.07 190.37 L659.01 191.07 L657.95 191.78 L656.89 192.47 L655.83 193.16 L654.77 193.85 L653.71 194.53 L652.65 195.20 L651.59 195.87 L650.53 196.54 L649.46 197.20 L648.40 197.85 L647.34 198.50 L646.28 199.15 L645.22 199.79 L644.15 200.42 L643.09 201.05 L642.03 201.67 L640.96 202.29 L639.90 202.91 L638.84 203.52 L637.77 204.12 L636.70 204.72 L635.64 205.31 L634.57 205.90 L633.50 206.49 L632.43 207.06 L631.37 207.64 L630.30 208.21 L629.23 208.77 L628.15 209.33 L627.08 209.88 L626.01 210.43 L624.94 210.97 L623.86 211.51 L622.79 212.04 L621.71 212.57 L620.63 213.09 L619.55 213.61 L618.47 214.12 L617.39 214.63 L616.31 215.13 L615.23 215.63 L614.14 216.12 L613.06 216.60 L611.97 217.09 L610.88 217.56 L609.79 218.03 L608.70 218.50 L607.61 218.96 L606.52 219.42 L605.42 219.87 L604.32 220.31 L603.22 220.75 L602.12 221.19 L601.02 221.62 L599.92 222.05 L598.81 222.47 L597.70 222.88 L596.59 223.29 L595.48 223.70 L594.37 224.10 L593.25 224.49 L592.13 224.88 L591.01 225.27 L589.89 225.65 L588.76 226.02 L587.64 226.39 L586.51 226.76 L585.37 227.11 L584.24 227.47 L583.10 227.82 L581.96 228.16 L580.82 228.50 L579.67 228.83 L578.53 229.16 L577.37 229.49 L576.22 229.81 L575.06 230.12 L573.90 230.43 L572.74 230.73 L571.57 231.03 L570.40 231.32 L569.23 231.61 L568.05 231.89 L566.87 232.17 L565.69 232.44 L564.50 232.71 L563.31 232.97 L562.12 233.23 L560.92 233.48 L559.72 233.73 L558.51 233.97 L557.30 234.21 L556.09 234.44 L554.87 234.67 L553.65 234.89 L552.42 235.11 L551.19 235.32 L549.96 235.52 L548.72 235.72 L547.47 235.92 L546.22 236.11 L544.97 236.30 L543.71 236.48 L542.45 236.65 L541.18 236.83 L539.91 236.99 L538.63 237.15 L537.34 237.31 L536.06 237.46 L534.76 237.60 L533.46 237.74 L532.16 237.88 L530.85 238.01 L529.53 238.13 L528.21 238.25 L526.88 238.37 L525.54 238.48 L524.20 238.58 L522.86 238.68 L521.51 238.77 L520.15 238.86 L518.78 238.95 L517.41 239.03 L516.03 239.10 L514.65 239.17 L513.26 239.23 L511.86 239.29 L510.45 239.35 L509.04 239.39 L507.62 239.44 L506.19 239.48 L504.76 239.51 L503.32 239.54 L501.87 239.56 L500.42 239.58 L498.95 239.59 L497.48 239.60 L496.00 239.60 L494.68 239.60 L493.36 239.59 L492.04 239.58 L490.73 239.56 L489.42 239.54 L488.11 239.51 L486.80 239.48 L485.49 239.44 L484.19 239.39 L482.89 239.35 L481.59 239.29 L480.29 239.23 L478.99 239.17 L477.70 239.10 L476.40 239.03 L475.11 238.95 L473.83 238.86 L472.54 238.77 L471.26 238.68 L469.97 238.58 L468.69 238.48 L467.41 238.37 L466.14 238.25 L464.86 238.13 L463.59 238.01 L462.32 237.88 L461.05 237.74 L459.79 237.60 L458.52 237.46 L457.26 237.31 L456.00 237.15 L454.74 236.99 L453.48 236.83 L452.23 236.65 L450.98 236.48 L449.73 236.30 L448.48 236.11 L447.23 235.92 L445.99 235.72 L444.74 235.52 L443.50 235.32 L442.26 235.11 L441.03 234.89 L439.79 234.67 L438.56 234.44 L437.33 234.21 L436.10 233.97 L434.87 233.73 L433.65 233.48 L432.42 233.23 L431.20 232.97 L429.98 232.71 L428.76 232.44 L427.55 232.17 L426.33 231.89 L425.12 231.61 L423.91 231.32 L422.70 231.03 L421.50 230.73 L420.29 230.43 L419.09 230.12 L417.89 229.81 L416.69 229.49 L415.49 229.16 L414.30 228.83 L413.11 228.50 L411.91 228.16 L410.72 227.82 L409.54 227.47 L408.35 227.11 L407.17 226.76 L405.98 226.39 L404.80 226.02 L403.62 225.65 L402.45 225.27 L401.27 224.88 L400.10 224.49 L398.93 224.10 L397.76 223.70 L396.59 223.29 L395.42 222.88 L394.26 222.47 L393.10 222.05 L391.93 221.62 L390.77 221.19 L389.62 220.75 L388.46 220.31 L387.31 219.87 L386.15 219.42 L385.00 218.96 L383.85 218.50 L382.71 218.03 L381.56 217.56 L380.42 217.09 L379.27 216.60 L378.13 216.12 L376.99 215.63 L375.86 215.13 L374.72 214.63 L373.59 214.12 L372.45 213.61 L371.32 213.09 L370.19 212.57 L369.07 212.04 L367.94 211.51 L366.82 210.97 L365.69 210.43 L364.57 209.88 L363.45 209.33 L362.33 208.77 L361.22 208.21 L360.10 207.64 L358.99 207.06 L357.87 206.49 L356.76 205.90 L355.65 205.31 L354.55 204.72 L353.44 204.12 L352.34 203.52 L351.23 202.91 L350.13 202.29 L349.03 201.67 L347.93 201.05 L346.83 200.42 L345.74 199.79 L344.64 199.15 L343.55 198.50 L342.46 197.85 L341.37 197.20 L340.28 196.54 L339.19 195.87 L338.10 195.20 L337.02 194.53 L335.93 193.85 L334.85 193.16 L333.77 192.47 L332.69 191.78 L331.61 191.07 L330.53 190.37 L329.46 189.66 L328.38 188.94 L327.31 188.22 L326.24 187.49 L325.17 186.76 L324.10 186.03 L323.03 185.29 L321.96 184.54 L320.89 183.79 L319.83 183.03 L318.76 182.27 L317.70 181.50 L316.64 180.73 L315.58 179.95 L314.52 179.17 L313.46 178.38 L312.40 177.59 L311.35 176.79 L310.29 175.99 L309.24 175.18 L308.18 174.37 L307.13 173.55 L306.08 172.73 L305.03 171.90 L303.98 171.07 L302.93 170.23 L301.89 169.39 L300.84 168.54 L299.79 167.68 L298.75 166.82 L297.71 165.96 L296.66 165.09 L295.62 164.22 L294.58 163.34 L293.54 162.45 L292.50 161.57 L291.46 160.67 L290.43 159.77 L289.39 158.87 L288.35 157.96 L287.32 157.04 L286.28 156.12 L285.25 155.20 L284.22 154.27 L283.19 153.33 L282.15 152.39 L281.12 151.45 L280.09 150.50 L279.06 149.54 L278.04 148.58 L277.01 147.61 L275.98 146.64 L274.95 145.67 L273.93 144.69 L272.90 143.70 L271.88 142.71 L270.85 141.71 L269.83 140.71 L268.81 139.71 L267.78 138.69 L266.76 137.68 L265.74 136.66 L264.72 135.63 L263.70 134.60 L262.68 133.56 L261.66 132.52 L260.64 131.47 L259.62 130.42 L258.60 129.36 L257.58 128.30 L256.56 127.23 L255.54 126.16 L254.52 125.08 L253.51 124.00 L252.49 122.91 L251.47 121.82 L250.46 120.72 L249.44 119.61 L248.43 118.51 L247.41 117.39 L246.39 116.27 L245.38 115.15 L244.36 114.02 L243.35 112.89 L242.33 111.75 L241.32 110.60 L240.30 109.45 L239.29 108.30 L238.27 107.14 L237.26 105.98 L236.24 104.81 L235.23 103.63 L234.21 102.45 L233.20 101.27 L232.18 100.08 L231.17 98.88 L230.15 97.68 L229.14 96.48 L228.12 95.27 L227.11 94.05 L226.09 92.83 L225.08 91.61 L224.06 90.37 L223.04 89.14 L222.03 87.90 L221.01 86.65 L219.99 85.40 L218.98 84.14 L217.96 82.88 L216.94 81.62 L215.92 80.35 L214.91 79.07 L213.89 77.79 L212.87 76.50 L211.85 75.21 L210.83 73.91 L209.81 72.61 L208.79 71.30 L207.76 69.99 L206.74 68.67 L205.72 67.35 L204.70 66.02 L203.67 64.69 L202.65 63.35 L201.62 62.01 L200.60 60.66 L199.57 59.31 L198.54 57.95 L197.52 56.59 L196.49 55.22 L195.46 53.85 L194.43 52.47 L193.40 51.08 L192.37 49.69 L191.33 48.30 L190.30 46.90 L189.27 45.50 L188.23 44.09 L187.20 42.67 L186.16 41.26 L185.12 39.83 L184.08 38.40 L183.04 36.97 L182.00 35.53 L180.96 34.08 L179.92 32.63 L178.88 31.18 L177.83 29.72 L176.78 28.25 L175.74 26.78 L174.69 25.31 L173.64 23.83 L172.59 22.34 L171.54 20.85 L170.48 19.36 L169.43 17.85 L168.38 16.35 L167.32 14.84 L166.26 13.32 L165.20 11.80Z" fill="#40e8d0" filter="url(#soft)"/>
<path d="M165.20 9.00 L166.79 11.28 L168.38 13.56 L169.97 15.82 L171.55 18.07 L173.13 20.30 L174.71 22.53 L176.28 24.74 L177.85 26.95 L179.42 29.14 L180.99 31.32 L182.55 33.49 L184.11 35.65 L185.67 37.79 L187.23 39.92 L188.79 42.05 L190.34 44.16 L191.89 46.26 L193.44 48.35 L194.99 50.42 L196.54 52.49 L198.08 54.54 L199.63 56.58 L201.17 58.61 L202.71 60.63 L204.25 62.64 L205.79 64.64 L207.32 66.62 L208.86 68.59 L210.39 70.56 L211.92 72.51 L213.46 74.44 L214.99 76.37 L216.52 78.29 L218.05 80.19 L219.58 82.08 L221.10 83.97 L222.63 85.83 L224.16 87.69 L225.68 89.54 L227.21 91.37 L228.74 93.20 L230.26 95.01 L231.79 96.81 L233.31 98.60 L234.84 100.38 L236.36 102.14 L237.89 103.90 L239.41 105.64 L240.93 107.37 L242.46 109.09 L243.99 110.80 L245.51 112.50 L247.04 114.18 L248.56 115.86 L250.09 117.52 L251.62 119.17 L253.14 120.81 L254.67 122.44 L256.20 124.05 L257.73 125.66 L259.26 127.25 L260.79 128.83 L262.33 130.40 L263.86 131.96 L265.39 133.51 L266.93 135.05 L268.47 136.57 L270.00 138.08 L271.54 139.58 L273.08 141.07 L274.62 142.55 L276.17 144.02 L277.71 145.48 L279.26 146.92 L280.80 148.35 L282.35 149.77 L283.90 151.18 L285.45 152.58 L287.01 153.97 L288.56 155.34 L290.12 156.70 L291.68 158.06 L293.24 159.40 L294.80 160.72 L296.36 162.04 L297.93 163.35 L299.50 164.64 L301.07 165.92 L302.64 167.20 L304.22 168.46 L305.79 169.70 L307.37 170.94 L308.96 172.17 L310.54 173.38 L312.13 174.58 L313.71 175.77 L315.31 176.95 L316.90 178.12 L318.50 179.28 L320.09 180.42 L321.70 181.55 L323.30 182.68 L324.91 183.79 L326.52 184.88 L328.13 185.97 L329.74 187.05 L331.36 188.11 L332.98 189.16 L334.61 190.21 L336.23 191.24 L337.86 192.25 L339.50 193.26 L341.13 194.26 L342.77 195.24 L344.41 196.21 L346.06 197.17 L347.70 198.12 L349.36 199.06 L351.01 199.98 L352.67 200.90 L354.33 201.80 L355.99 202.69 L357.66 203.57 L359.33 204.44 L361.01 205.30 L362.69 206.15 L364.37 206.98 L366.05 207.80 L367.74 208.61 L369.43 209.41 L371.13 210.20 L372.83 210.98 L374.53 211.74 L376.24 212.50 L377.95 213.24 L379.66 213.97 L381.38 214.69 L383.10 215.40 L384.83 216.09 L386.56 216.78 L388.29 217.45 L390.03 218.11 L391.77 218.76 L393.52 219.40 L395.26 220.03 L397.02 220.64 L398.77 221.25 L400.54 221.84 L402.30 222.42 L404.07 222.99 L405.84 223.55 L407.62 224.09 L409.40 224.63 L411.18 225.15 L412.97 225.66 L414.77 226.16 L416.56 226.65 L418.37 227.13 L420.17 227.60 L421.98 228.05 L423.80 228.49 L425.62 228.92 L427.44 229.34 L429.27 229.75 L431.10 230.15 L432.93 230.54 L434.77 230.91 L436.62 231.27 L438.47 231.62 L440.32 231.96 L442.18 232.29 L444.04 232.61 L445.91 232.91 L447.78 233.20 L449.65 233.49 L451.53 233.76 L453.42 234.02 L455.30 234.26 L457.20 234.50 L459.09 234.72 L461.00 234.94 L462.90 235.14 L464.81 235.33 L466.73 235.51 L468.65 235.67 L470.57 235.83 L472.50 235.97 L474.43 236.10 L476.37 236.22 L478.31 236.33 L480.26 236.43 L482.21 236.52 L484.17 236.59 L486.13 236.66 L488.09 236.71 L490.06 236.75 L492.04 236.78 L494.02 236.79 L496.00 236.80 L498.22 236.79 L500.42 236.78 L502.61 236.75 L504.78 236.71 L506.93 236.66 L509.06 236.59 L511.18 236.52 L513.28 236.43 L515.37 236.33 L517.44 236.22 L519.50 236.10 L521.55 235.97 L523.58 235.83 L525.59 235.67 L527.59 235.51 L529.58 235.33 L531.56 235.14 L533.52 234.94 L535.47 234.72 L537.41 234.50 L539.33 234.26 L541.25 234.02 L543.15 233.76 L545.05 233.49 L546.93 233.20 L548.80 232.91 L550.66 232.61 L552.51 232.29 L554.35 231.96 L556.18 231.62 L558.00 231.27 L559.82 230.91 L561.62 230.54 L563.41 230.15 L565.20 229.75 L566.98 229.34 L568.75 228.92 L570.51 228.49 L572.27 228.05 L574.02 227.60 L575.76 227.13 L577.50 226.65 L579.22 226.16 L580.95 225.66 L582.66 225.15 L584.37 224.63 L586.07 224.09 L587.77 223.55 L589.46 222.99 L591.15 222.42 L592.83 221.84 L594.51 221.25 L596.18 220.64 L597.85 220.03 L599.52 219.40 L601.18 218.76 L602.83 218.11 L604.48 217.45 L606.13 216.78 L607.77 216.09 L609.41 215.40 L611.05 214.69 L612.69 213.97 L614.32 213.24 L615.95 212.50 L617.57 211.74 L619.20 210.98 L620.82 210.20 L622.43 209.41 L624.05 208.61 L625.66 207.80 L627.28 206.98 L628.89 206.15 L630.49 205.30 L632.10 204.44 L633.71 203.57 L635.31 202.69 L636.91 201.80 L638.51 200.90 L640.11 199.98 L641.71 199.06 L643.31 198.12 L644.91 197.17 L646.50 196.21 L648.10 195.24 L649.69 194.26 L651.29 193.26 L652.88 192.25 L654.47 191.24 L656.07 190.21 L657.66 189.16 L659.25 188.11 L660.84 187.05 L662.43 185.97 L664.03 184.88 L665.62 183.79 L667.21 182.68 L668.80 181.55 L670.39 180.42 L671.98 179.28 L673.57 178.12 L675.16 176.95 L676.75 175.77 L678.34 174.58 L679.93 173.38 L681.53 172.17 L683.12 170.94 L684.71 169.70 L686.30 168.46 L687.89 167.20 L689.48 165.92 L691.08 164.64 L692.67 163.35 L694.26 162.04 L695.85 160.72 L697.44 159.40 L699.04 158.06 L700.63 156.70 L702.22 155.34 L703.81 153.97 L705.40 152.58 L707.00 151.18 L708.59 149.77 L710.18 148.35 L711.77 146.92 L713.36 145.48 L714.95 144.02 L716.54 142.55 L718.13 141.07 L719.72 139.58 L721.31 138.08 L722.89 136.57 L724.48 135.05 L726.06 133.51 L727.65 131.96 L729.23 130.40 L730.82 128.83 L732.40 127.25 L733.98 125.66 L735.55 124.05 L737.13 122.44 L738.71 120.81 L740.28 119.17 L741.85 117.52 L743.42 115.86 L744.99 114.18 L746.55 112.50 L748.12 110.80 L749.68 109.09 L751.23 107.37 L752.79 105.64 L754.34 103.90 L755.89 102.14 L757.44 100.38 L758.98 98.60 L760.52 96.81 L762.06 95.01 L763.59 93.20 L765.12 91.37 L766.64 89.54 L768.16 87.69 L769.68 85.83 L771.19 83.97 L772.70 82.08 L774.20 80.19 L775.70 78.29 L777.19 76.37 L778.68 74.44 L780.16 72.51 L781.63 70.56 L783.10 68.59 L784.56 66.62 L786.02 64.64 L787.47 62.64 L788.91 60.63 L790.35 58.61 L791.78 56.58 L793.20 54.54 L794.62 52.49 L796.02 50.42 L797.42 48.35 L798.81 46.26 L800.19 44.16 L801.56 42.05 L802.93 39.92 L804.28 37.79 L805.63 35.65 L806.96 33.49 L808.29 31.32 L809.60 29.14 L810.91 26.95 L812.20 24.74 L813.48 22.53 L814.75 20.30 L816.01 18.07 L817.26 15.82 L818.50 13.56 L819.72 11.28 L820.93 9.00" stroke="#34e6b4" stroke-width="3.6" filter="url(#soft)"/>
<path d="M165.20 9.00 L166.79 11.28 L168.38 13.56 L169.97 15.82 L171.55 18.07 L173.13 20.30 L174.71 22.53 L176.28 24.74 L177.85 26.95 L179.42 29.14 L180.99 31.32 L182.55 33.49 L184.11 35.65 L185.67 37.79 L187.23 39.92 L188.79 42.05 L190.34 44.16 L191.89 46.26 L193.44 48.35 L194.99 50.42 L196.54 52.49 L198.08 54.54 L199.63 56.58 L201.17 58.61 L202.71 60.63 L204.25 62.64 L205.79 64.64 L207.32 66.62 L208.86 68.59 L210.39 70.56 L211.92 72.51 L213.46 74.44 L214.99 76.37 L216.52 78.29 L218.05 80.19 L219.58 82.08 L221.10 83.97 L222.63 85.83 L224.16 87.69 L225.68 89.54 L227.21 91.37 L228.74 93.20 L230.26 95.01 L231.79 96.81 L233.31 98.60 L234.84 100.38 L236.36 102.14 L237.89 103.90 L239.41 105.64 L240.93 107.37 L242.46 109.09 L243.99 110.80 L245.51 112.50 L247.04 114.18 L248.56 115.86 L250.09 117.52 L251.62 119.17 L253.14 120.81 L254.67 122.44 L256.20 124.05 L257.73 125.66 L259.26 127.25 L260.79 128.83 L262.33 130.40 L263.86 131.96 L265.39 133.51 L266.93 135.05 L268.47 136.57 L270.00 138.08 L271.54 139.58 L273.08 141.07 L274.62 142.55 L276.17 144.02 L277.71 145.48 L279.26 146.92 L280.80 148.35 L282.35 149.77 L283.90 151.18 L285.45 152.58 L287.01 153.97 L288.56 155.34 L290.12 156.70 L291.68 158.06 L293.24 159.40 L294.80 160.72 L296.36 162.04 L297.93 163.35 L299.50 164.64 L301.07 165.92 L302.64 167.20 L304.22 168.46 L305.79 169.70 L307.37 170.94 L308.96 172.17 L310.54 173.38 L312.13 174.58 L313.71 175.77 L315.31 176.95 L316.90 178.12 L318.50 179.28 L320.09 180.42 L321.70 181.55 L323.30 182.68 L324.91 183.79 L326.52 184.88 L328.13 185.97 L329.74 187.05 L331.36 188.11 L332.98 189.16 L334.61 190.21 L336.23 191.24 L337.86 192.25 L339.50 193.26 L341.13 194.26 L342.77 195.24 L344.41 196.21 L346.06 197.17 L347.70 198.12 L349.36 199.06 L351.01 199.98 L352.67 200.90 L354.33 201.80 L355.99 202.69 L357.66 203.57 L359.33 204.44 L361.01 205.30 L362.69 206.15 L364.37 206.98 L366.05 207.80 L367.74 208.61 L369.43 209.41 L371.13 210.20 L372.83 210.98 L374.53 211.74 L376.24 212.50 L377.95 213.24 L379.66 213.97 L381.38 214.69 L383.10 215.40 L384.83 216.09 L386.56 216.78 L388.29 217.45 L390.03 218.11 L391.77 218.76 L393.52 219.40 L395.26 220.03 L397.02 220.64 L398.77 221.25 L400.54 221.84 L402.30 222.42 L404.07 222.99 L405.84 223.55 L407.62 224.09 L409.40 224.63 L411.18 225.15 L412.97 225.66 L414.77 226.16 L416.56 226.65 L418.37 227.13 L420.17 227.60 L421.98 228.05 L423.80 228.49 L425.62 228.92 L427.44 229.34 L429.27 229.75 L431.10 230.15 L432.93 230.54 L434.77 230.91 L436.62 231.27 L438.47 231.62 L440.32 231.96 L442.18 232.29 L444.04 232.61 L445.91 232.91 L447.78 233.20 L449.65 233.49 L451.53 233.76 L453.42 234.02 L455.30 234.26 L457.20 234.50 L459.09 234.72 L461.00 234.94 L462.90 235.14 L464.81 235.33 L466.73 235.51 L468.65 235.67 L470.57 235.83 L472.50 235.97 L474.43 236.10 L476.37 236.22 L478.31 236.33 L480.26 236.43 L482.21 236.52 L484.17 236.59 L486.13 236.66 L488.09 236.71 L490.06 236.75 L492.04 236.78 L494.02 236.79 L496.00 236.80 L498.22 236.79 L500.42 236.78 L502.61 236.75 L504.78 236.71 L506.93 236.66 L509.06 236.59 L511.18 236.52 L513.28 236.43 L515.37 236.33 L517.44 236.22 L519.50 236.10 L521.55 235.97 L523.58 235.83 L525.59 235.67 L527.59 235.51 L529.58 235.33 L531.56 235.14 L533.52 234.94 L535.47 234.72 L537.41 234.50 L539.33 234.26 L541.25 234.02 L543.15 233.76 L545.05 233.49 L546.93 233.20 L548.80 232.91 L550.66 232.61 L552.51 232.29 L554.35 231.96 L556.18 231.62 L558.00 231.27 L559.82 230.91 L561.62 230.54 L563.41 230.15 L565.20 229.75 L566.98 229.34 L568.75 228.92 L570.51 228.49 L572.27 228.05 L574.02 227.60 L575.76 227.13 L577.50 226.65 L579.22 226.16 L580.95 225.66 L582.66 225.15 L584.37 224.63 L586.07 224.09 L587.77 223.55 L589.46 222.99 L591.15 222.42 L592.83 221.84 L594.51 221.25 L596.18 220.64 L597.85 220.03 L599.52 219.40 L601.18 218.76 L602.83 218.11 L604.48 217.45 L606.13 216.78 L607.77 216.09 L609.41 215.40 L611.05 214.69 L612.69 213.97 L614.32 213.24 L615.95 212.50 L617.57 211.74 L619.20 210.98 L620.82 210.20 L622.43 209.41 L624.05 208.61 L625.66 207.80 L627.28 206.98 L628.89 206.15 L630.49 205.30 L632.10 204.44 L633.71 203.57 L635.31 202.69 L636.91 201.80 L638.51 200.90 L640.11 199.98 L641.71 199.06 L643.31 198.12 L644.91 197.17 L646.50 196.21 L648.10 195.24 L649.69 194.26 L651.29 193.26 L652.88 192.25 L654.47 191.24 L656.07 190.21 L657.66 189.16 L659.25 188.11 L660.84 187.05 L662.43 185.97 L664.03 184.88 L665.62 183.79 L667.21 182.68 L668.80 181.55 L670.39 180.42 L671.98 179.28 L673.57 178.12 L675.16 176.95 L676.75 175.77 L678.34 174.58 L679.93 173.38 L681.53 172.17 L683.12 170.94 L684.71 169.70 L686.30 168.46 L687.89 167.20 L689.48 165.92 L691.08 164.64 L692.67 163.35 L694.26 162.04 L695.85 160.72 L697.44 159.40 L699.04 158.06 L700.63 156.70 L702.22 155.34 L703.81 153.97 L705.40 152.58 L707.00 151.18 L708.59 149.77 L710.18 148.35 L711.77 146.92 L713.36 145.48 L714.95 144.02 L716.54 142.55 L718.13 141.07 L719.72 139.58 L721.31 138.08 L722.89 136.57 L724.48 135.05 L726.06 133.51 L727.65 131.96 L729.23 130.40 L730.82 128.83 L732.40 127.25 L733.98 125.66 L735.55 124.05 L737.13 122.44 L738.71 120.81 L740.28 119.17 L741.85 117.52 L743.42 115.86 L744.99 114.18 L746.55 112.50 L748.12 110.80 L749.68 109.09 L751.23 107.37 L752.79 105.64 L754.34 103.90 L755.89 102.14 L757.44 100.38 L758.98 98.60 L760.52 96.81 L762.06 95.01 L763.59 93.20 L765.12 91.37 L766.64 89.54 L768.16 87.69 L769.68 85.83 L771.19 83.97 L772.70 82.08 L774.20 80.19 L775.70 78.29 L777.19 76.37 L778.68 74.44 L780.16 72.51 L781.63 70.56 L783.10 68.59 L784.56 66.62 L786.02 64.64 L787.47 62.64 L788.91 60.63 L790.35 58.61 L791.78 56.58 L793.20 54.54 L794.62 52.49 L796.02 50.42 L797.42 48.35 L798.81 46.26 L800.19 44.16 L801.56 42.05 L802.93 39.92 L804.28 37.79 L805.63 35.65 L806.96 33.49 L808.29 31.32 L809.60 29.14 L810.91 26.95 L812.20 24.74 L813.48 22.53 L814.75 20.30 L816.01 18.07 L817.26 15.82 L818.50 13.56 L819.72 11.28 L820.93 9.00" stroke="#1cf080" stroke-width="1.8" filter="url(#soft)"/>
<path d="M165.20 7.20 L166.26 8.72 L167.32 10.24 L168.38 11.75 L169.43 13.25 L170.48 14.76 L171.54 16.25 L172.59 17.74 L173.64 19.23 L174.69 20.71 L175.74 22.18 L176.78 23.65 L177.83 25.12 L178.88 26.58 L179.92 28.03 L180.96 29.48 L182.00 30.93 L183.04 32.37 L184.08 33.80 L185.12 35.23 L186.16 36.66 L187.20 38.07 L188.23 39.49 L189.27 40.90 L190.30 42.30 L191.33 43.70 L192.37 45.09 L193.40 46.48 L194.43 47.87 L195.46 49.25 L196.49 50.62 L197.52 51.99 L198.54 53.35 L199.57 54.71 L200.60 56.06 L201.62 57.41 L202.65 58.75 L203.67 60.09 L204.70 61.42 L205.72 62.75 L206.74 64.07 L207.76 65.39 L208.79 66.70 L209.81 68.01 L210.83 69.31 L211.85 70.61 L212.87 71.90 L213.89 73.19 L214.91 74.47 L215.92 75.75 L216.94 77.02 L217.96 78.28 L218.98 79.54 L219.99 80.80 L221.01 82.05 L222.03 83.30 L223.04 84.54 L224.06 85.77 L225.08 87.01 L226.09 88.23 L227.11 89.45 L228.12 90.67 L229.14 91.88 L230.15 93.08 L231.17 94.28 L232.18 95.48 L233.20 96.67 L234.21 97.85 L235.23 99.03 L236.24 100.21 L237.26 101.38 L238.27 102.54 L239.29 103.70 L240.30 104.85 L241.32 106.00 L242.33 107.15 L243.35 108.29 L244.36 109.42 L245.38 110.55 L246.39 111.67 L247.41 112.79 L248.43 113.91 L249.44 115.01 L250.46 116.12 L251.47 117.22 L252.49 118.31 L253.51 119.40 L254.52 120.48 L255.54 121.56 L256.56 122.63 L257.58 123.70 L258.60 124.76 L259.62 125.82 L260.64 126.87 L261.66 127.92 L262.68 128.96 L263.70 130.00 L264.72 131.03 L265.74 132.06 L266.76 133.08 L267.78 134.09 L268.81 135.11 L269.83 136.11 L270.85 137.11 L271.88 138.11 L272.90 139.10 L273.93 140.09 L274.95 141.07 L275.98 142.04 L277.01 143.01 L278.04 143.98 L279.06 144.94 L280.09 145.90 L281.12 146.85 L282.15 147.79 L283.19 148.73 L284.22 149.67 L285.25 150.60 L286.28 151.52 L287.32 152.44 L288.35 153.36 L289.39 154.27 L290.43 155.17 L291.46 156.07 L292.50 156.97 L293.54 157.85 L294.58 158.74 L295.62 159.62 L296.66 160.49 L297.71 161.36 L298.75 162.22 L299.79 163.08 L300.84 163.94 L301.89 164.79 L302.93 165.63 L303.98 166.47 L305.03 167.30 L306.08 168.13 L307.13 168.95 L308.18 169.77 L309.24 170.58 L310.29 171.39 L311.35 172.19 L312.40 172.99 L313.46 173.78 L314.52 174.57 L315.58 175.35 L316.64 176.13 L317.70 176.90 L318.76 177.67 L319.83 178.43 L320.89 179.19 L321.96 179.94 L323.03 180.69 L324.10 181.43 L325.17 182.16 L326.24 182.89 L327.31 183.62 L328.38 184.34 L329.46 185.06 L330.53 185.77 L331.61 186.47 L332.69 187.18 L333.77 187.87 L334.85 188.56 L335.93 189.25 L337.02 189.93 L338.10 190.60 L339.19 191.27 L340.28 191.94 L341.37 192.60 L342.46 193.25 L343.55 193.90 L344.64 194.55 L345.74 195.19 L346.83 195.82 L347.93 196.45 L349.03 197.07 L350.13 197.69 L351.23 198.31 L352.34 198.92 L353.44 199.52 L354.55 200.12 L355.65 200.71 L356.76 201.30 L357.87 201.89 L358.99 202.46 L360.10 203.04 L361.22 203.61 L362.33 204.17 L363.45 204.73 L364.57 205.28 L365.69 205.83 L366.82 206.37 L367.94 206.91 L369.07 207.44 L370.19 207.97 L371.32 208.49 L372.45 209.01 L373.59 209.52 L374.72 210.03 L375.86 210.53 L376.99 211.03 L378.13 211.52 L379.27 212.00 L380.42 212.49 L381.56 212.96 L382.71 213.43 L383.85 213.90 L385.00 214.36 L386.15 214.82 L387.31 215.27 L388.46 215.71 L389.62 216.15 L390.77 216.59 L391.93 217.02 L393.10 217.45 L394.26 217.87 L395.42 218.28 L396.59 218.69 L397.76 219.10 L398.93 219.50 L400.10 219.89 L401.27 220.28 L402.45 220.67 L403.62 221.05 L404.80 221.42 L405.98 221.79 L407.17 222.16 L408.35 222.51 L409.54 222.87 L410.72 223.22 L411.91 223.56 L413.11 223.90 L414.30 224.23 L415.49 224.56 L416.69 224.89 L417.89 225.21 L419.09 225.52 L420.29 225.83 L421.50 226.13 L422.70 226.43 L423.91 226.72 L425.12 227.01 L426.33 227.29 L427.55 227.57 L428.76 227.84 L429.98 228.11 L431.20 228.37 L432.42 228.63 L433.65 228.88 L434.87 229.13 L436.10 229.37 L437.33 229.61 L438.56 229.84 L439.79 230.07 L441.03 230.29 L442.26 230.51 L443.50 230.72 L444.74 230.92 L445.99 231.12 L447.23 231.32 L448.48 231.51 L449.73 231.70 L450.98 231.88 L452.23 232.05 L453.48 232.23 L454.74 232.39 L456.00 232.55 L457.26 232.71 L458.52 232.86 L459.79 233.00 L461.05 233.14 L462.32 233.28 L463.59 233.41 L464.86 233.53 L466.14 233.65 L467.41 233.77 L468.69 233.88 L469.97 233.98 L471.26 234.08 L472.54 234.17 L473.83 234.26 L475.11 234.35 L476.40 234.43 L477.70 234.50 L478.99 234.57 L480.29 234.63 L481.59 234.69 L482.89 234.75 L484.19 234.79 L485.49 234.84 L486.80 234.88 L488.11 234.91 L489.42 234.94 L490.73 234.96 L492.04 234.98 L493.36 234.99 L494.68 235.00 L496.00 235.00 L497.48 235.00 L498.95 234.99 L500.42 234.98 L501.87 234.96 L503.32 234.94 L504.76 234.91 L506.19 234.88 L507.62 234.84 L509.04 234.79 L510.45 234.75 L511.86 234.69 L513.26 234.63 L514.65 234.57 L516.03 234.50 L517.41 234.43 L518.78 234.35 L520.15 234.26 L521.51 234.17 L522.86 234.08 L524.20 233.98 L525.54 233.88 L526.88 233.77 L528.21 233.65 L529.53 233.53 L530.85 233.41 L532.16 233.28 L533.46 233.14 L534.76 233.00 L536.06 232.86 L537.34 232.71 L538.63 232.55 L539.91 232.39 L541.18 232.23 L542.45 232.05 L543.71 231.88 L544.97 231.70 L546.22 231.51 L547.47 231.32 L548.72 231.12 L549.96 230.92 L551.19 230.72 L552.42 230.51 L553.65 230.29 L554.87 230.07 L556.09 229.84 L557.30 229.61 L558.51 229.37 L559.72 229.13 L560.92 228.88 L562.12 228.63 L563.31 228.37 L564.50 228.11 L565.69 227.84 L566.87 227.57 L568.05 227.29 L569.23 227.01 L570.40 226.72 L571.57 226.43 L572.74 226.13 L573.90 225.83 L575.06 225.52 L576.22 225.21 L577.37 224.89 L578.53 224.56 L579.67 224.23 L580.82 223.90 L581.96 223.56 L583.10 223.22 L584.24 222.87 L585.37 222.51 L586.51 222.16 L587.64 221.79 L588.76 221.42 L589.89 221.05 L591.01 220.67 L592.13 220.28 L593.25 219.89 L594.37 219.50 L595.48 219.10 L596.59 218.69 L597.70 218.28 L598.81 217.87 L599.92 217.45 L601.02 217.02 L602.12 216.59 L603.22 216.15 L604.32 215.71 L605.42 215.27 L606.52 214.82 L607.61 214.36 L608.70 213.90 L609.79 213.43 L610.88 212.96 L611.97 212.49 L613.06 212.00 L614.14 211.52 L615.23 211.03 L616.31 210.53 L617.39 210.03 L618.47 209.52 L619.55 209.01 L620.63 208.49 L621.71 207.97 L622.79 207.44 L623.86 206.91 L624.94 206.37 L626.01 205.83 L627.08 205.28 L628.15 204.73 L629.23 204.17 L630.30 203.61 L631.37 203.04 L632.43 202.46 L633.50 201.89 L634.57 201.30 L635.64 200.71 L636.70 200.12 L637.77 199.52 L638.84 198.92 L639.90 198.31 L640.96 197.69 L642.03 197.07 L643.09 196.45 L644.15 195.82 L645.22 195.19 L646.28 194.55 L647.34 193.90 L648.40 193.25 L649.46 192.60 L650.53 191.94 L651.59 191.27 L652.65 190.60 L653.71 189.93 L654.77 189.25 L655.83 188.56 L656.89 187.87 L657.95 187.18 L659.01 186.47 L660.07 185.77 L661.12 185.06 L662.18 184.34 L663.24 183.62 L664.30 182.89 L665.36 182.16 L666.42 181.43 L667.48 180.69 L668.54 179.94 L669.60 179.19 L670.66 178.43 L671.71 177.67 L672.77 176.90 L673.83 176.13 L674.89 175.35 L675.95 174.57 L677.01 173.78 L678.07 172.99 L679.13 172.19 L680.19 171.39 L681.24 170.58 L682.30 169.77 L683.36 168.95 L684.42 168.13 L685.48 167.30 L686.54 166.47 L687.60 165.63 L688.66 164.79 L689.72 163.94 L690.78 163.08 L691.84 162.22 L692.90 161.36 L693.96 160.49 L695.02 159.62 L696.08 158.74 L697.14 157.85 L698.20 156.97 L699.26 156.07 L700.31 155.17 L701.37 154.27 L702.43 153.36 L703.49 152.44 L704.55 151.52 L705.61 150.60 L706.67 149.67 L707.73 148.73 L708.79 147.79 L709.85 146.85 L710.91 145.90 L711.97 144.94 L713.03 143.98 L714.08 143.01 L715.14 142.04 L716.20 141.07 L717.26 140.09 L718.32 139.10 L719.37 138.11 L720.43 137.11 L721.49 136.11 L722.54 135.11 L723.60 134.09 L724.65 133.08 L725.71 132.06 L726.76 131.03 L727.82 130.00 L728.87 128.96 L729.93 127.92 L730.98 126.87 L732.03 125.82 L733.08 124.76 L734.13 123.70 L735.18 122.63 L736.23 121.56 L737.28 120.48 L738.33 119.40 L739.38 118.31 L740.43 117.22 L741.47 116.12 L742.52 115.01 L743.56 113.91 L744.61 112.79 L745.65 111.67 L746.69 110.55 L747.73 109.42 L748.77 108.29 L749.81 107.15 L750.84 106.00 L751.88 104.85 L752.91 103.70 L753.95 102.54 L754.98 101.38 L756.01 100.21 L757.04 99.03 L758.07 97.85 L759.09 96.67 L760.12 95.48 L761.14 94.28 L762.17 93.08 L763.19 91.88 L764.20 90.67 L765.22 89.45 L766.24 88.23 L767.25 87.01 L768.26 85.77 L769.27 84.54 L770.28 83.30 L771.28 82.05 L772.29 80.80 L773.29 79.54 L774.29 78.28 L775.28 77.02 L776.28 75.75 L777.27 74.47 L778.26 73.19 L779.25 71.90 L780.23 70.61 L781.21 69.31 L782.19 68.01 L783.17 66.70 L784.14 65.39 L785.12 64.07 L786.08 62.75 L787.05 61.42 L788.01 60.09 L788.97 58.75 L789.93 57.41 L790.88 56.06 L791.83 54.71 L792.78 53.35 L793.72 51.99 L794.66 50.62 L795.60 49.25 L796.53 47.87 L797.46 46.48 L798.39 45.09 L799.31 43.70 L800.23 42.30 L801.14 40.90 L802.05 39.49 L802.96 38.07 L803.86 36.66 L804.76 35.23 L805.65 33.80 L806.54 32.37 L807.43 30.93 L808.31 29.48 L809.19 28.03 L810.06 26.58 L810.92 25.12 L811.79 23.65 L812.64 22.18 L813.50 20.71 L814.34 19.23 L815.18 17.74 L816.02 16.25 L816.85 14.76 L817.68 13.25 L818.50 11.75 L819.32 10.24 L820.13 8.72 L820.93 7.20 L820.93 10.80 L820.13 12.32 L819.32 13.84 L818.50 15.35 L817.68 16.85 L816.85 18.36 L816.02 19.85 L815.18 21.34 L814.34 22.83 L813.50 24.31 L812.64 25.78 L811.79 27.25 L810.92 28.72 L810.06 30.18 L809.19 31.63 L808.31 33.08 L807.43 34.53 L806.54 35.97 L805.65 37.40 L804.76 38.83 L803.86 40.26 L802.96 41.67 L802.05 43.09 L801.14 44.50 L800.23 45.90 L799.31 47.30 L798.39 48.69 L797.46 50.08 L796.53 51.47 L795.60 52.85 L794.66 54.22 L793.72 55.59 L792.78 56.95 L791.83 58.31 L790.88 59.66 L789.93 61.01 L788.97 62.35 L788.01 63.69 L787.05 65.02 L786.08 66.35 L785.12 67.67 L784.14 68.99 L783.17 70.30 L782.19 71.61 L781.21 72.91 L780.23 74.21 L779.25 75.50 L778.26 76.79 L777.27 78.07 L776.28 79.35 L775.28 80.62 L774.29 81.88 L773.29 83.14 L772.29 84.40 L771.28 85.65 L770.28 86.90 L769.27 88.14 L768.26 89.37 L767.25 90.61 L766.24 91.83 L765.22 93.05 L764.20 94.27 L763.19 95.48 L762.17 96.68 L761.14 97.88 L760.12 99.08 L759.09 100.27 L758.07 101.45 L757.04 102.63 L756.01 103.81 L754.98 104.98 L753.95 106.14 L752.91 107.30 L751.88 108.45 L750.84 109.60 L749.81 110.75 L748.77 111.89 L747.73 113.02 L746.69 114.15 L745.65 115.27 L744.61 116.39 L743.56 117.51 L742.52 118.61 L741.47 119.72 L740.43 120.82 L739.38 121.91 L738.33 123.00 L737.28 124.08 L736.23 125.16 L735.18 126.23 L734.13 127.30 L733.08 128.36 L732.03 129.42 L730.98 130.47 L729.93 131.52 L728.87 132.56 L727.82 133.60 L726.76 134.63 L725.71 135.66 L724.65 136.68 L723.60 137.69 L722.54 138.71 L721.49 139.71 L720.43 140.71 L719.37 141.71 L718.32 142.70 L717.26 143.69 L716.20 144.67 L715.14 145.64 L714.08 146.61 L713.03 147.58 L711.97 148.54 L710.91 149.50 L709.85 150.45 L708.79 151.39 L707.73 152.33 L706.67 153.27 L705.61 154.20 L704.55 155.12 L703.49 156.04 L702.43 156.96 L701.37 157.87 L700.31 158.77 L699.26 159.67 L698.20 160.57 L697.14 161.45 L696.08 162.34 L695.02 163.22 L693.96 164.09 L692.90 164.96 L691.84 165.82 L690.78 166.68 L689.72 167.54 L688.66 168.39 L687.60 169.23 L686.54 170.07 L685.48 170.90 L684.42 171.73 L683.36 172.55 L682.30 173.37 L681.24 174.18 L680.19 174.99 L679.13 175.79 L678.07 176.59 L677.01 177.38 L675.95 178.17 L674.89 178.95 L673.83 179.73 L672.77 180.50 L671.71 181.27 L670.66 182.03 L669.60 182.79 L668.54 183.54 L667.48 184.29 L666.42 185.03 L665.36 185.76 L664.30 186.49 L663.24 187.22 L662.18 187.94 L661.12 188.66 L660.07 189.37 L659.01 190.07 L657.95 190.78 L656.89 191.47 L655.83 192.16 L654.77 192.85 L653.71 193.53 L652.65 194.20 L651.59 194.87 L650.53 195.54 L649.46 196.20 L648.40 196.85 L647.34 197.50 L646.28 198.15 L645.22 198.79 L644.15 199.42 L643.09 200.05 L642.03 200.67 L640.96 201.29 L639.90 201.91 L638.84 202.52 L637.77 203.12 L636.70 203.72 L635.64 204.31 L634.57 204.90 L633.50 205.49 L632.43 206.06 L631.37 206.64 L630.30 207.21 L629.23 207.77 L628.15 208.33 L627.08 208.88 L626.01 209.43 L624.94 209.97 L623.86 210.51 L622.79 211.04 L621.71 211.57 L620.63 212.09 L619.55 212.61 L618.47 213.12 L617.39 213.63 L616.31 214.13 L615.23 214.63 L614.14 215.12 L613.06 215.60 L611.97 216.09 L610.88 216.56 L609.79 217.03 L608.70 217.50 L607.61 217.96 L606.52 218.42 L605.42 218.87 L604.32 219.31 L603.22 219.75 L602.12 220.19 L601.02 220.62 L599.92 221.05 L598.81 221.47 L597.70 221.88 L596.59 222.29 L595.48 222.70 L594.37 223.10 L593.25 223.49 L592.13 223.88 L591.01 224.27 L589.89 224.65 L588.76 225.02 L587.64 225.39 L586.51 225.76 L585.37 226.11 L584.24 226.47 L583.10 226.82 L581.96 227.16 L580.82 227.50 L579.67 227.83 L578.53 228.16 L577.37 228.49 L576.22 228.81 L575.06 229.12 L573.90 229.43 L572.74 229.73 L571.57 230.03 L570.40 230.32 L569.23 230.61 L568.05 230.89 L566.87 231.17 L565.69 231.44 L564.50 231.71 L563.31 231.97 L562.12 232.23 L560.92 232.48 L559.72 232.73 L558.51 232.97 L557.30 233.21 L556.09 233.44 L554.87 233.67 L553.65 233.89 L552.42 234.11 L551.19 234.32 L549.96 234.52 L548.72 234.72 L547.47 234.92 L546.22 235.11 L544.97 235.30 L543.71 235.48 L542.45 235.65 L541.18 235.83 L539.91 235.99 L538.63 236.15 L537.34 236.31 L536.06 236.46 L534.76 236.60 L533.46 236.74 L532.16 236.88 L530.85 237.01 L529.53 237.13 L528.21 237.25 L526.88 237.37 L525.54 237.48 L524.20 237.58 L522.86 237.68 L521.51 237.77 L520.15 237.86 L518.78 237.95 L517.41 238.03 L516.03 238.10 L514.65 238.17 L513.26 238.23 L511.86 238.29 L510.45 238.35 L509.04 238.39 L507.62 238.44 L506.19 238.48 L504.76 238.51 L503.32 238.54 L501.87 238.56 L500.42 238.58 L498.95 238.59 L497.48 238.60 L496.00 238.60 L494.68 238.60 L493.36 238.59 L492.04 238.58 L490.73 238.56 L489.42 238.54 L488.11 238.51 L486.80 238.48 L485.49 238.44 L484.19 238.39 L482.89 238.35 L481.59 238.29 L480.29 238.23 L478.99 238.17 L477.70 238.10 L476.40 238.03 L475.11 237.95 L473.83 237.86 L472.54 237.77 L471.26 237.68 L469.97 237.58 L468.69 237.48 L467.41 237.37 L466.14 237.25 L464.86 237.13 L463.59 237.01 L462.32 236.88 L461.05 236.74 L459.79 236.60 L458.52 236.46 L457.26 236.31 L456.00 236.15 L454.74 235.99 L453.48 235.83 L452.23 235.65 L450.98 235.48 L449.73 235.30 L448.48 235.11 L447.23 234.92 L445.99 234.72 L444.74 234.52 L443.50 234.32 L442.26 234.11 L441.03 233.89 L439.79 233.67 L438.56 233.44 L437.33 233.21 L436.10 232.97 L434.87 232.73 L433.65 232.48 L432.42 232.23 L431.20 231.97 L429.98 231.71 L428.76 231.44 L427.55 231.17 L426.33 230.89 L425.12 230.61 L423.91 230.32 L422.70 230.03 L421.50 229.73 L420.29 229.43 L419.09 229.12 L417.89 228.81 L416.69 228.49 L415.49 228.16 L414.30 227.83 L413.11 227.50 L411.91 227.16 L410.72 226.82 L409.54 226.47 L408.35 226.11 L407.17 225.76 L405.98 225.39 L404.80 225.02 L403.62 224.65 L402.45 224.27 L401.27 223.88 L400.10 223.49 L398.93 223.10 L397.76 222.70 L396.59 222.29 L395.42 221.88 L394.26 221.47 L393.10 221.05 L391.93 220.62 L390.77 220.19 L389.62 219.75 L388.46 219.31 L387.31 218.87 L386.15 218.42 L385.00 217.96 L383.85 217.50 L382.71 217.03 L381.56 216.56 L380.42 216.09 L379.27 215.60 L378.13 215.12 L376.99 214.63 L375.86 214.13 L374.72 213.63 L373.59 213.12 L372.45 212.61 L371.32 212.09 L370.19 211.57 L369.07 211.04 L367.94 210.51 L366.82 209.97 L365.69 209.43 L364.57 208.88 L363.45 208.33 L362.33 207.77 L361.22 207.21 L360.10 206.64 L358.99 206.06 L357.87 205.49 L356.76 204.90 L355.65 204.31 L354.55 203.72 L353.44 203.12 L352.34 202.52 L351.23 201.91 L350.13 201.29 L349.03 200.67 L347.93 200.05 L346.83 199.42 L345.74 198.79 L344.64 198.15 L343.55 197.50 L342.46 196.85 L341.37 196.20 L340.28 195.54 L339.19 194.87 L338.10 194.20 L337.02 193.53 L335.93 192.85 L334.85 192.16 L333.77 191.47 L332.69 190.78 L331.61 190.07 L330.53 189.37 L329.46 188.66 L328.38 187.94 L327.31 187.22 L326.24 186.49 L325.17 185.76 L324.10 185.03 L323.03 184.29 L321.96 183.54 L320.89 182.79 L319.83 182.03 L318.76 181.27 L317.70 180.50 L316.64 179.73 L315.58 178.95 L314.52 178.17 L313.46 177.38 L312.40 176.59 L311.35 175.79 L310.29 174.99 L309.24 174.18 L308.18 173.37 L307.13 172.55 L306.08 171.73 L305.03 170.90 L303.98 170.07 L302.93 169.23 L301.89 168.39 L300.84 167.54 L299.79 166.68 L298.75 165.82 L297.71 164.96 L296.66 164.09 L295.62 163.22 L294.58 162.34 L293.54 161.45 L292.50 160.57 L291.46 159.67 L290.43 158.77 L289.39 157.87 L288.35 156.96 L287.32 156.04 L286.28 155.12 L285.25 154.20 L284.22 153.27 L283.19 152.33 L282.15 151.39 L281.12 150.45 L280.09 149.50 L279.06 148.54 L278.04 147.58 L277.01 146.61 L275.98 145.64 L274.95 144.67 L273.93 143.69 L272.90 142.70 L271.88 141.71 L270.85 140.71 L269.83 139.71 L268.81 138.71 L267.78 137.69 L266.76 136.68 L265.74 135.66 L264.72 134.63 L263.70 133.60 L262.68 132.56 L261.66 131.52 L260.64 130.47 L259.62 129.42 L258.60 128.36 L257.58 127.30 L256.56 126.23 L255.54 125.16 L254.52 124.08 L253.51 123.00 L252.49 121.91 L251.47 120.82 L250.46 119.72 L249.44 118.61 L248.43 117.51 L247.41 116.39 L246.39 115.27 L245.38 114.15 L244.36 113.02 L243.35 111.89 L242.33 110.75 L241.32 109.60 L240.30 108.45 L239.29 107.30 L238.27 106.14 L237.26 104.98 L236.24 103.81 L235.23 102.63 L234.21 101.45 L233.20 100.27 L232.18 99.08 L231.17 97.88 L230.15 96.68 L229.14 95.48 L228.12 94.27 L227.11 93.05 L226.09 91.83 L225.08 90.61 L224.06 89.37 L223.04 88.14 L222.03 86.90 L221.01 85.65 L219.99 84.40 L218.98 83.14 L217.96 81.88 L216.94 80.62 L215.92 79.35 L214.91 78.07 L213.89 76.79 L212.87 75.50 L211.85 74.21 L210.83 72.91 L209.81 71.61 L208.79 70.30 L207.76 68.99 L206.74 67.67 L205.72 66.35 L204.70 65.02 L203.67 63.69 L202.65 62.35 L201.62 61.01 L200.60 59.66 L199.57 58.31 L198.54 56.95 L197.52 55.59 L196.49 54.22 L195.46 52.85 L194.43 51.47 L193.40 50.08 L192.37 48.69 L191.33 47.30 L190.30 45.90 L189.27 44.50 L188.23 43.09 L187.20 41.67 L186.16 40.26 L185.12 38.83 L184.08 37.40 L183.04 35.97 L182.00 34.53 L180.96 33.08 L179.92 31.63 L178.88 30.18 L177.83 28.72 L176.78 27.25 L175.74 25.78 L174.69 24.31 L173.64 22.83 L172.59 21.34 L171.54 19.85 L170.48 18.36 L169.43 16.85 L168.38 15.35 L167.32 13.84 L166.26 12.32 L165.20 10.80Z" fill="#0cf46c" filter="url(#soft)"/>
<line x1="496" y1="10" x2="496" y2="493" stroke="#000" stroke-width="3.7"/>
<path d="M162.03 9.00 L163.94 12.49 L165.85 15.95 L167.75 19.40 L169.64 22.84 L171.53 26.25 L173.41 29.65 L175.28 33.03 L177.15 36.39 L179.01 39.74 L180.87 43.07 L182.72 46.38 L184.57 49.67 L186.41 52.94 L188.25 56.20 L190.08 59.44 L191.91 62.66 L193.73 65.87 L195.55 69.06 L197.37 72.23 L199.18 75.38 L200.98 78.51 L202.78 81.63 L204.58 84.73 L206.37 87.81 L208.16 90.87 L209.95 93.92 L211.73 96.95 L213.51 99.96 L215.29 102.96 L217.06 105.93 L218.83 108.89 L220.59 111.83 L222.35 114.76 L224.11 117.66 L225.87 120.55 L227.62 123.42 L229.37 126.28 L231.12 129.11 L232.87 131.93 L234.61 134.73 L236.35 137.51 L238.09 140.28 L239.82 143.03 L241.56 145.76 L243.29 148.47 L245.02 151.17 L246.74 153.85 L248.47 156.51 L250.19 159.15 L251.91 161.77 L253.63 164.38 L255.35 166.97 L257.06 169.54 L258.78 172.10 L260.49 174.64 L262.20 177.16 L263.91 179.66 L265.62 182.14 L267.33 184.61 L269.03 187.06 L270.74 189.49 L272.44 191.91 L274.14 194.30 L275.85 196.68 L277.55 199.04 L279.24 201.39 L280.94 203.72 L282.64 206.03 L284.34 208.32 L286.03 210.59 L287.73 212.85 L289.42 215.09 L291.11 217.31 L292.81 219.51 L294.50 221.70 L296.19 223.87 L297.88 226.02 L299.57 228.15 L301.26 230.27 L302.95 232.37 L304.64 234.45 L306.32 236.51 L308.01 238.56 L309.70 240.58 L311.39 242.59 L313.07 244.59 L314.76 246.56 L316.44 248.52 L318.13 250.46 L319.81 252.38 L321.50 254.29 L323.18 256.18 L324.86 258.05 L326.55 259.90 L328.23 261.73 L329.91 263.55 L331.60 265.35 L333.28 267.13 L334.96 268.90 L336.64 270.65 L338.32 272.38 L340.00 274.09 L341.68 275.78 L343.36 277.46 L345.04 279.12 L346.72 280.76 L348.40 282.39 L350.08 283.99 L351.76 285.58 L353.44 287.15 L355.12 288.71 L356.79 290.24 L358.47 291.76 L360.15 293.26 L361.82 294.75 L363.50 296.21 L365.17 297.66 L366.85 299.09 L368.52 300.51 L370.19 301.90 L371.87 303.28 L373.54 304.64 L375.21 305.99 L376.88 307.31 L378.55 308.62 L380.22 309.91 L381.89 311.18 L383.56 312.44 L385.22 313.68 L386.89 314.90 L388.55 316.10 L390.22 317.29 L391.88 318.45 L393.54 319.60 L395.20 320.74 L396.86 321.85 L398.52 322.95 L400.17 324.03 L401.83 325.09 L403.48 326.14 L405.14 327.16 L406.79 328.17 L408.44 329.17 L410.08 330.14 L411.73 331.10 L413.38 332.04 L415.02 332.96 L416.66 333.86 L418.30 334.75 L419.93 335.62 L421.57 336.47 L423.20 337.30 L424.83 338.12 L426.46 338.92 L428.09 339.70 L429.71 340.47 L431.33 341.21 L432.95 341.94 L434.57 342.65 L436.18 343.35 L437.79 344.02 L439.40 344.68 L441.00 345.32 L442.60 345.94 L444.20 346.55 L445.80 347.14 L447.39 347.71 L448.98 348.26 L450.56 348.80 L452.14 349.32 L453.72 349.82 L455.30 350.30 L456.87 350.76 L458.43 351.21 L459.99 351.64 L461.55 352.06 L463.11 352.45 L464.66 352.83 L466.20 353.19 L467.74 353.53 L469.28 353.86 L470.81 354.16 L472.33 354.45 L473.86 354.72 L475.37 354.98 L476.88 355.22 L478.39 355.44 L479.89 355.64 L481.38 355.82 L482.87 355.99 L484.36 356.14 L485.83 356.27 L487.30 356.38 L488.77 356.48 L490.23 356.56 L491.68 356.62 L493.13 356.66 L494.57 356.69 L496.00 356.70 L497.39 356.69 L498.79 356.66 L500.20 356.62 L501.61 356.56 L503.04 356.48 L504.47 356.38 L505.90 356.27 L507.34 356.14 L508.79 355.99 L510.25 355.82 L511.71 355.64 L513.18 355.44 L514.66 355.22 L516.14 354.98 L517.62 354.72 L519.12 354.45 L520.62 354.16 L522.12 353.86 L523.63 353.53 L525.14 353.19 L526.67 352.83 L528.19 352.45 L529.72 352.06 L531.26 351.64 L532.80 351.21 L534.34 350.76 L535.89 350.30 L537.45 349.82 L539.01 349.32 L540.57 348.80 L542.14 348.26 L543.71 347.71 L545.28 347.14 L546.86 346.55 L548.45 345.94 L550.03 345.32 L551.62 344.68 L553.22 344.02 L554.82 343.35 L556.42 342.65 L558.02 341.94 L559.63 341.21 L561.24 340.47 L562.86 339.70 L564.47 338.92 L566.09 338.12 L567.72 337.30 L569.34 336.47 L570.97 335.62 L572.60 334.75 L574.23 333.86 L575.87 332.96 L577.51 332.04 L579.15 331.10 L580.79 330.14 L582.44 329.17 L584.08 328.17 L585.73 327.16 L587.38 326.14 L589.04 325.09 L590.69 324.03 L592.35 322.95 L594.01 321.85 L595.67 320.74 L597.33 319.60 L598.99 318.45 L600.66 317.29 L602.33 316.10 L603.99 314.90 L605.66 313.68 L607.33 312.44 L609.01 311.18 L610.68 309.91 L612.35 308.62 L614.03 307.31 L615.70 305.99 L617.38 304.64 L619.06 303.28 L620.74 301.90 L622.42 300.51 L624.10 299.09 L625.79 297.66 L627.47 296.21 L629.15 294.75 L630.84 293.26 L632.52 291.76 L634.21 290.24 L635.90 288.71 L637.58 287.15 L639.27 285.58 L640.96 283.99 L642.65 282.39 L644.34 280.76 L646.03 279.12 L647.72 277.46 L649.42 275.78 L651.11 274.09 L652.80 272.38 L654.49 270.65 L656.19 268.90 L657.88 267.13 L659.58 265.35 L661.27 263.55 L662.97 261.73 L664.66 259.90 L666.36 258.05 L668.06 256.18 L669.75 254.29 L671.45 252.38 L673.15 250.46 L674.85 248.52 L676.55 246.56 L678.25 244.59 L679.95 242.59 L681.65 240.58 L683.35 238.56 L685.05 236.51 L686.75 234.45 L688.45 232.37 L690.16 230.27 L691.86 228.15 L693.56 226.02 L695.27 223.87 L696.97 221.70 L698.68 219.51 L700.38 217.31 L702.09 215.09 L703.80 212.85 L705.51 210.59 L707.22 208.32 L708.92 206.03 L710.63 203.72 L712.35 201.39 L714.06 199.04 L715.77 196.68 L717.48 194.30 L719.20 191.91 L720.91 189.49 L722.63 187.06 L724.35 184.61 L726.06 182.14 L727.78 179.66 L729.50 177.16 L731.23 174.64 L732.95 172.10 L734.67 169.54 L736.40 166.97 L738.13 164.38 L739.85 161.77 L741.58 159.15 L743.32 156.51 L745.05 153.85 L746.78 151.17 L748.52 148.47 L750.26 145.76 L752.00 143.03 L753.74 140.28 L755.48 137.51 L757.23 134.73 L758.98 131.93 L760.73 129.11 L762.48 126.28 L764.23 123.42 L765.99 120.55 L767.75 117.66 L769.51 114.76 L771.27 111.83 L773.04 108.89 L774.81 105.93 L776.58 102.96 L778.35 99.96 L780.13 96.95 L781.91 93.92 L783.70 90.87 L785.48 87.81 L787.27 84.73 L789.07 81.63 L790.86 78.51 L792.66 75.38 L794.47 72.23 L796.27 69.06 L798.08 65.87 L799.90 62.66 L801.72 59.44 L803.54 56.20 L805.37 52.94 L807.20 49.67 L809.03 46.38 L810.87 43.07 L812.72 39.74 L814.57 36.39 L816.42 33.03 L818.28 29.65 L820.14 26.25 L822.01 22.84 L823.89 19.40 L825.77 15.95 L827.65 12.49 L829.54 9.00" stroke="#ff0000" stroke-width="3.5"/>
<path d="M167.47 9.00 L169.11 13.47 L170.75 17.91 L172.39 22.33 L174.03 26.73 L175.66 31.11 L177.30 35.46 L178.94 39.79 L180.58 44.10 L182.21 48.39 L183.85 52.65 L185.49 56.89 L187.12 61.11 L188.76 65.30 L190.40 69.48 L192.04 73.63 L193.68 77.76 L195.31 81.86 L196.95 85.95 L198.59 90.01 L200.23 94.05 L201.87 98.06 L203.51 102.06 L205.15 106.03 L206.79 109.98 L208.43 113.90 L210.08 117.81 L211.72 121.69 L213.36 125.55 L215.00 129.38 L216.65 133.20 L218.29 136.99 L219.94 140.76 L221.59 144.50 L223.23 148.23 L224.88 151.93 L226.53 155.61 L228.18 159.26 L229.83 162.90 L231.48 166.51 L233.13 170.10 L234.78 173.66 L236.43 177.21 L238.09 180.73 L239.74 184.23 L241.40 187.70 L243.05 191.16 L244.71 194.59 L246.37 198.00 L248.03 201.38 L249.69 204.75 L251.35 208.09 L253.01 211.40 L254.67 214.70 L256.33 217.97 L258.00 221.23 L259.66 224.45 L261.33 227.66 L263.00 230.84 L264.66 234.01 L266.33 237.14 L268.00 240.26 L269.67 243.35 L271.34 246.43 L273.02 249.47 L274.69 252.50 L276.36 255.50 L278.04 258.48 L279.71 261.44 L281.39 264.38 L283.07 267.29 L284.75 270.18 L286.43 273.05 L288.11 275.90 L289.79 278.72 L291.47 281.52 L293.15 284.30 L294.84 287.06 L296.52 289.79 L298.21 292.50 L299.89 295.19 L301.58 297.86 L303.27 300.50 L304.95 303.12 L306.64 305.72 L308.33 308.30 L310.02 310.85 L311.71 313.38 L313.41 315.89 L315.10 318.38 L316.79 320.84 L318.48 323.28 L320.18 325.70 L321.87 328.10 L323.57 330.47 L325.26 332.82 L326.96 335.15 L328.66 337.46 L330.35 339.74 L332.05 342.00 L333.75 344.24 L335.45 346.46 L337.14 348.65 L338.84 350.82 L340.54 352.97 L342.24 355.10 L343.94 357.20 L345.64 359.28 L347.34 361.34 L349.04 363.38 L350.74 365.39 L352.44 367.38 L354.14 369.35 L355.83 371.30 L357.53 373.22 L359.23 375.12 L360.93 377.00 L362.63 378.86 L364.33 380.69 L366.03 382.50 L367.73 384.29 L369.42 386.06 L371.12 387.80 L372.82 389.52 L374.51 391.22 L376.21 392.90 L377.90 394.55 L379.60 396.18 L381.29 397.79 L382.98 399.38 L384.68 400.94 L386.37 402.48 L388.06 404.00 L389.75 405.50 L391.44 406.97 L393.12 408.42 L394.81 409.85 L396.49 411.26 L398.18 412.64 L399.86 414.00 L401.54 415.34 L403.22 416.66 L404.90 417.95 L406.58 419.22 L408.25 420.47 L409.93 421.70 L411.60 422.90 L413.27 424.08 L414.94 425.24 L416.60 426.38 L418.27 427.49 L419.93 428.58 L421.59 429.65 L423.25 430.70 L424.91 431.72 L426.56 432.72 L428.21 433.70 L429.86 434.66 L431.51 435.59 L433.15 436.50 L434.80 437.39 L436.44 438.26 L438.07 439.10 L439.71 439.92 L441.34 440.72 L442.97 441.50 L444.59 442.25 L446.21 442.98 L447.83 443.69 L449.45 444.38 L451.06 445.04 L452.67 445.68 L454.27 446.30 L455.87 446.90 L457.47 447.47 L459.07 448.02 L460.66 448.55 L462.24 449.06 L463.83 449.54 L465.41 450.00 L466.98 450.44 L468.55 450.86 L470.12 451.25 L471.68 451.62 L473.24 451.97 L474.79 452.30 L476.34 452.60 L477.88 452.88 L479.42 453.14 L480.95 453.38 L482.48 453.59 L484.01 453.78 L485.52 453.95 L487.04 454.10 L488.55 454.22 L490.05 454.32 L491.54 454.40 L493.04 454.46 L494.52 454.49 L496.00 454.50 L497.65 454.49 L499.29 454.46 L500.93 454.40 L502.58 454.32 L504.22 454.22 L505.86 454.10 L507.49 453.95 L509.13 453.78 L510.76 453.59 L512.40 453.38 L514.03 453.14 L515.66 452.88 L517.29 452.60 L518.92 452.30 L520.55 451.97 L522.18 451.62 L523.81 451.25 L525.44 450.86 L527.06 450.44 L528.69 450.00 L530.32 449.54 L531.94 449.06 L533.57 448.55 L535.19 448.02 L536.81 447.47 L538.44 446.90 L540.06 446.30 L541.69 445.68 L543.31 445.04 L544.93 444.38 L546.56 443.69 L548.18 442.98 L549.81 442.25 L551.43 441.50 L553.05 440.72 L554.68 439.92 L556.30 439.10 L557.93 438.26 L559.56 437.39 L561.18 436.50 L562.81 435.59 L564.44 434.66 L566.06 433.70 L567.69 432.72 L569.32 431.72 L570.95 430.70 L572.58 429.65 L574.21 428.58 L575.84 427.49 L577.47 426.38 L579.11 425.24 L580.74 424.08 L582.38 422.90 L584.01 421.70 L585.65 420.47 L587.29 419.22 L588.92 417.95 L590.56 416.66 L592.20 415.34 L593.85 414.00 L595.49 412.64 L597.13 411.26 L598.78 409.85 L600.42 408.42 L602.07 406.97 L603.71 405.50 L605.36 404.00 L607.01 402.48 L608.66 400.94 L610.32 399.38 L611.97 397.79 L613.62 396.18 L615.28 394.55 L616.94 392.90 L618.59 391.22 L620.25 389.52 L621.91 387.80 L623.57 386.06 L625.24 384.29 L626.90 382.50 L628.57 380.69 L630.23 378.86 L631.90 377.00 L633.57 375.12 L635.24 373.22 L636.91 371.30 L638.58 369.35 L640.25 367.38 L641.93 365.39 L643.60 363.38 L645.28 361.34 L646.96 359.28 L648.63 357.20 L650.31 355.10 L652.00 352.97 L653.68 350.82 L655.36 348.65 L657.04 346.46 L658.73 344.24 L660.42 342.00 L662.10 339.74 L663.79 337.46 L665.48 335.15 L667.17 332.82 L668.86 330.47 L670.55 328.10 L672.24 325.70 L673.94 323.28 L675.63 320.84 L677.32 318.38 L679.02 315.89 L680.72 313.38 L682.41 310.85 L684.11 308.30 L685.81 305.72 L687.51 303.12 L689.21 300.50 L690.91 297.86 L692.61 295.19 L694.31 292.50 L696.01 289.79 L697.71 287.06 L699.41 284.30 L701.11 281.52 L702.81 278.72 L704.52 275.90 L706.22 273.05 L707.92 270.18 L709.62 267.29 L711.33 264.38 L713.03 261.44 L714.73 258.48 L716.43 255.50 L718.13 252.50 L719.84 249.47 L721.54 246.43 L723.24 243.35 L724.94 240.26 L726.64 237.14 L728.34 234.01 L730.04 230.84 L731.74 227.66 L733.43 224.45 L735.13 221.23 L736.83 217.97 L738.52 214.70 L740.22 211.40 L741.91 208.09 L743.60 204.75 L745.29 201.38 L746.98 198.00 L748.67 194.59 L750.36 191.16 L752.05 187.70 L753.73 184.23 L755.41 180.73 L757.10 177.21 L758.78 173.66 L760.45 170.10 L762.13 166.51 L763.80 162.90 L765.48 159.26 L767.15 155.61 L768.81 151.93 L770.48 148.23 L772.14 144.50 L773.80 140.76 L775.46 136.99 L777.12 133.20 L778.77 129.38 L780.42 125.55 L782.07 121.69 L783.71 117.81 L785.36 113.90 L787.00 109.98 L788.63 106.03 L790.26 102.06 L791.89 98.06 L793.52 94.05 L795.14 90.01 L796.76 85.95 L798.37 81.86 L799.98 77.76 L801.59 73.63 L803.19 69.48 L804.79 65.30 L806.39 61.11 L807.98 56.89 L809.56 52.65 L811.14 48.39 L812.72 44.10 L814.29 39.79 L815.86 35.46 L817.42 31.11 L818.98 26.73 L820.53 22.33 L822.08 17.91 L823.62 13.47 L825.15 9.00" stroke="#ffffff" stroke-width="3.3"/>
<path d="M175.69 9.00 L176.80 12.24 L177.94 15.47 L179.08 18.68 L180.25 21.87 L181.43 25.05 L182.63 28.21 L183.85 31.36 L185.08 34.49 L186.33 37.60 L187.59 40.70 L188.87 43.78 L190.16 46.84 L191.47 49.89 L192.79 52.92 L194.12 55.93 L195.47 58.93 L196.83 61.91 L198.21 64.88 L199.59 67.82 L200.99 70.76 L202.40 73.67 L203.82 76.57 L205.25 79.46 L206.70 82.32 L208.15 85.18 L209.62 88.01 L211.09 90.83 L212.58 93.63 L214.07 96.42 L215.58 99.19 L217.09 101.94 L218.62 104.68 L220.15 107.40 L221.69 110.10 L223.23 112.79 L224.79 115.46 L226.35 118.11 L227.93 120.75 L229.50 123.37 L231.09 125.98 L232.68 128.57 L234.28 131.14 L235.88 133.70 L237.49 136.24 L239.11 138.76 L240.73 141.27 L242.36 143.76 L244.00 146.24 L245.63 148.70 L247.28 151.14 L248.92 153.57 L250.58 155.98 L252.23 158.37 L253.89 160.75 L255.56 163.11 L257.23 165.45 L258.90 167.78 L260.57 170.09 L262.25 172.39 L263.93 174.67 L265.61 176.93 L267.30 179.18 L268.99 181.41 L270.68 183.62 L272.37 185.82 L274.07 188.00 L275.77 190.16 L277.47 192.31 L279.17 194.44 L280.87 196.56 L282.57 198.66 L284.28 200.74 L285.98 202.81 L287.69 204.86 L289.39 206.89 L291.10 208.91 L292.81 210.91 L294.52 212.90 L296.23 214.87 L297.94 216.82 L299.65 218.76 L301.35 220.67 L303.06 222.58 L304.77 224.47 L306.48 226.34 L308.19 228.19 L309.89 230.03 L311.60 231.85 L313.31 233.66 L315.01 235.44 L316.72 237.22 L318.42 238.97 L320.12 240.71 L321.82 242.44 L323.52 244.14 L325.22 245.84 L326.92 247.51 L328.61 249.17 L330.31 250.81 L332.00 252.44 L333.69 254.05 L335.38 255.64 L337.07 257.21 L338.76 258.77 L340.44 260.32 L342.12 261.85 L343.81 263.36 L345.49 264.85 L347.16 266.33 L348.84 267.79 L350.51 269.24 L352.18 270.67 L353.86 272.08 L355.52 273.48 L357.19 274.86 L358.85 276.22 L360.52 277.57 L362.18 278.90 L363.84 280.22 L365.49 281.52 L367.15 282.80 L368.80 284.07 L370.45 285.32 L372.10 286.55 L373.75 287.77 L375.39 288.97 L377.04 290.15 L378.68 291.32 L380.32 292.47 L381.96 293.61 L383.60 294.73 L385.23 295.83 L386.86 296.92 L388.50 297.99 L390.13 299.04 L391.76 300.08 L393.38 301.10 L395.01 302.10 L396.64 303.09 L398.26 304.06 L399.88 305.02 L401.50 305.96 L403.13 306.88 L404.75 307.79 L406.37 308.68 L407.98 309.55 L409.60 310.41 L411.22 311.25 L412.84 312.08 L414.45 312.89 L416.07 313.68 L417.69 314.45 L419.30 315.21 L420.92 315.96 L422.53 316.68 L424.15 317.40 L425.77 318.09 L427.38 318.77 L429.00 319.43 L430.62 320.07 L432.24 320.70 L433.86 321.32 L435.48 321.91 L437.11 322.49 L438.73 323.06 L440.36 323.60 L441.98 324.13 L443.61 324.65 L445.25 325.15 L446.88 325.63 L448.52 326.10 L450.15 326.54 L451.80 326.98 L453.44 327.39 L455.09 327.79 L456.74 328.18 L458.39 328.55 L460.05 328.90 L461.71 329.23 L463.37 329.55 L465.04 329.85 L466.71 330.14 L468.39 330.41 L470.07 330.66 L471.76 330.90 L473.45 331.12 L475.15 331.32 L476.85 331.51 L478.56 331.68 L480.27 331.84 L481.99 331.98 L483.72 332.10 L485.45 332.21 L487.19 332.30 L488.94 332.37 L490.69 332.43 L492.45 332.47 L494.22 332.49 L496.00 332.50 L497.46 332.49 L498.93 332.47 L500.41 332.43 L501.88 332.37 L503.36 332.30 L504.85 332.21 L506.33 332.10 L507.82 331.98 L509.32 331.84 L510.82 331.68 L512.32 331.51 L513.82 331.32 L515.33 331.12 L516.85 330.90 L518.36 330.66 L519.89 330.41 L521.41 330.14 L522.94 329.85 L524.47 329.55 L526.01 329.23 L527.55 328.90 L529.09 328.55 L530.64 328.18 L532.19 327.79 L533.74 327.39 L535.30 326.98 L536.86 326.54 L538.43 326.10 L539.99 325.63 L541.57 325.15 L543.14 324.65 L544.72 324.13 L546.31 323.60 L547.89 323.06 L549.48 322.49 L551.08 321.91 L552.68 321.32 L554.28 320.70 L555.88 320.07 L557.49 319.43 L559.10 318.77 L560.72 318.09 L562.33 317.40 L563.95 316.68 L565.58 315.96 L567.21 315.21 L568.84 314.45 L570.47 313.68 L572.11 312.89 L573.75 312.08 L575.40 311.25 L577.04 310.41 L578.69 309.55 L580.35 308.68 L582.00 307.79 L583.66 306.88 L585.32 305.96 L586.99 305.02 L588.65 304.06 L590.33 303.09 L592.00 302.10 L593.67 301.10 L595.35 300.08 L597.03 299.04 L598.72 297.99 L600.40 296.92 L602.09 295.83 L603.78 294.73 L605.47 293.61 L607.17 292.47 L608.87 291.32 L610.57 290.15 L612.27 288.97 L613.97 287.77 L615.68 286.55 L617.39 285.32 L619.10 284.07 L620.81 282.80 L622.52 281.52 L624.24 280.22 L625.95 278.90 L627.67 277.57 L629.39 276.22 L631.11 274.86 L632.83 273.48 L634.56 272.08 L636.28 270.67 L638.01 269.24 L639.74 267.79 L641.47 266.33 L643.20 264.85 L644.93 263.36 L646.66 261.85 L648.39 260.32 L650.12 258.77 L651.86 257.21 L653.59 255.64 L655.32 254.05 L657.06 252.44 L658.79 250.81 L660.53 249.17 L662.26 247.51 L664.00 245.84 L665.73 244.14 L667.47 242.44 L669.20 240.71 L670.94 238.97 L672.67 237.22 L674.41 235.44 L676.14 233.66 L677.87 231.85 L679.60 230.03 L681.33 228.19 L683.06 226.34 L684.79 224.47 L686.52 222.58 L688.25 220.67 L689.97 218.76 L691.69 216.82 L693.42 214.87 L695.14 212.90 L696.86 210.91 L698.57 208.91 L700.29 206.89 L702.00 204.86 L703.71 202.81 L705.42 200.74 L707.13 198.66 L708.83 196.56 L710.53 194.44 L712.23 192.31 L713.92 190.16 L715.62 188.00 L717.31 185.82 L718.99 183.62 L720.68 181.41 L722.36 179.18 L724.03 176.93 L725.70 174.67 L727.37 172.39 L729.04 170.09 L730.70 167.78 L732.36 165.45 L734.01 163.11 L735.66 160.75 L737.30 158.37 L738.94 155.98 L740.58 153.57 L742.21 151.14 L743.83 148.70 L745.45 146.24 L747.07 143.76 L748.68 141.27 L750.28 138.76 L751.88 136.24 L753.47 133.70 L755.06 131.14 L756.64 128.57 L758.21 125.98 L759.78 123.37 L761.34 120.75 L762.90 118.11 L764.45 115.46 L765.99 112.79 L767.52 110.10 L769.05 107.40 L770.57 104.68 L772.09 101.94 L773.59 99.19 L775.09 96.42 L776.58 93.63 L778.06 90.83 L779.53 88.01 L781.00 85.18 L782.45 82.32 L783.90 79.46 L785.34 76.57 L786.77 73.67 L788.19 70.76 L789.61 67.82 L791.01 64.88 L792.40 61.91 L793.79 58.93 L795.16 55.93 L796.52 52.92 L797.88 49.89 L799.22 46.84 L800.55 43.78 L801.87 40.70 L803.18 37.60 L804.48 34.49 L805.77 31.36 L807.05 28.21 L808.32 25.05 L809.57 21.87 L810.81 18.68 L812.04 15.47 L813.26 12.24 L814.47 9.00" stroke="#ffff00" stroke-width="5.4"/>
<path d="M169.64 9.00 L171.37 12.97 L173.10 16.92 L174.83 20.85 L176.57 24.76 L178.30 28.65 L180.04 32.52 L181.78 36.37 L183.53 40.20 L185.27 44.01 L187.02 47.80 L188.77 51.57 L190.52 55.32 L192.27 59.05 L194.02 62.76 L195.77 66.45 L197.53 70.12 L199.28 73.77 L201.04 77.40 L202.79 81.01 L204.55 84.60 L206.31 88.17 L208.06 91.72 L209.82 95.25 L211.58 98.76 L213.34 102.25 L215.10 105.72 L216.85 109.17 L218.61 112.60 L220.37 116.01 L222.12 119.40 L223.88 122.77 L225.63 126.12 L227.39 129.45 L229.14 132.76 L230.89 136.05 L232.64 139.32 L234.39 142.57 L236.14 145.80 L237.89 149.01 L239.64 152.20 L241.38 155.37 L243.13 158.52 L244.87 161.65 L246.61 164.76 L248.35 167.85 L250.09 170.92 L251.82 173.97 L253.55 177.00 L255.29 180.01 L257.02 183.00 L258.74 185.97 L260.47 188.92 L262.19 191.85 L263.91 194.76 L265.63 197.65 L267.35 200.52 L269.07 203.37 L270.78 206.20 L272.49 209.00 L274.19 211.79 L275.90 214.56 L277.60 217.31 L279.30 220.04 L281.00 222.75 L282.69 225.44 L284.39 228.11 L286.08 230.76 L287.76 233.39 L289.45 236.00 L291.13 238.59 L292.81 241.16 L294.48 243.71 L296.15 246.24 L297.82 248.75 L299.49 251.24 L301.15 253.71 L302.82 256.16 L304.47 258.59 L306.13 261.00 L307.78 263.39 L309.43 265.76 L311.08 268.11 L312.72 270.44 L314.36 272.75 L316.00 275.04 L317.64 277.31 L319.27 279.56 L320.90 281.79 L322.52 284.00 L324.15 286.19 L325.77 288.36 L327.39 290.51 L329.00 292.64 L330.61 294.75 L332.22 296.84 L333.83 298.91 L335.43 300.96 L337.03 302.99 L338.63 305.00 L340.22 306.99 L341.82 308.96 L343.41 310.91 L344.99 312.84 L346.58 314.75 L348.16 316.64 L349.74 318.51 L351.32 320.36 L352.89 322.19 L354.46 324.00 L356.03 325.79 L357.60 327.56 L359.17 329.31 L360.73 331.04 L362.29 332.75 L363.85 334.44 L365.41 336.11 L366.96 337.76 L368.51 339.39 L370.06 341.00 L371.61 342.59 L373.16 344.16 L374.70 345.71 L376.25 347.24 L377.79 348.75 L379.33 350.24 L380.87 351.71 L382.41 353.16 L383.94 354.59 L385.48 356.00 L387.01 357.39 L388.54 358.76 L390.08 360.11 L391.61 361.44 L393.14 362.75 L394.67 364.04 L396.19 365.31 L397.72 366.56 L399.25 367.79 L400.78 369.00 L402.30 370.19 L403.83 371.36 L405.35 372.51 L406.88 373.64 L408.41 374.75 L409.93 375.84 L411.46 376.91 L412.99 377.96 L414.51 378.99 L416.04 380.00 L417.57 380.99 L419.10 381.96 L420.63 382.91 L422.16 383.84 L423.69 384.75 L425.23 385.64 L426.76 386.51 L428.30 387.36 L429.83 388.19 L431.37 389.00 L432.92 389.79 L434.46 390.56 L436.01 391.31 L437.55 392.04 L439.10 392.75 L440.66 393.44 L442.21 394.11 L443.77 394.76 L445.33 395.39 L446.89 396.00 L448.46 396.59 L450.03 397.16 L451.61 397.71 L453.18 398.24 L454.77 398.75 L456.35 399.24 L457.94 399.71 L459.53 400.16 L461.13 400.59 L462.74 401.00 L464.34 401.39 L465.96 401.76 L467.57 402.11 L469.20 402.44 L470.82 402.75 L472.46 403.04 L474.10 403.31 L475.74 403.56 L477.39 403.79 L479.05 404.00 L480.71 404.19 L482.38 404.36 L484.06 404.51 L485.74 404.64 L487.43 404.75 L489.13 404.84 L490.84 404.91 L492.55 404.96 L494.27 404.99 L496.00 405.00 L497.37 404.99 L498.75 404.96 L500.13 404.91 L501.52 404.84 L502.93 404.75 L504.33 404.64 L505.75 404.51 L507.17 404.36 L508.60 404.19 L510.04 404.00 L511.49 403.79 L512.94 403.56 L514.40 403.31 L515.86 403.04 L517.33 402.75 L518.81 402.44 L520.29 402.11 L521.78 401.76 L523.28 401.39 L524.78 401.00 L526.28 400.59 L527.79 400.16 L529.31 399.71 L530.83 399.24 L532.36 398.75 L533.89 398.24 L535.43 397.71 L536.97 397.16 L538.51 396.59 L540.06 396.00 L541.61 395.39 L543.17 394.76 L544.73 394.11 L546.30 393.44 L547.87 392.75 L549.44 392.04 L551.02 391.31 L552.60 390.56 L554.18 389.79 L555.77 389.00 L557.36 388.19 L558.95 387.36 L560.55 386.51 L562.14 385.64 L563.75 384.75 L565.35 383.84 L566.96 382.91 L568.56 381.96 L570.17 380.99 L571.79 380.00 L573.40 378.99 L575.02 377.96 L576.64 376.91 L578.26 375.84 L579.89 374.75 L581.51 373.64 L583.14 372.51 L584.77 371.36 L586.40 370.19 L588.03 369.00 L589.66 367.79 L591.30 366.56 L592.93 365.31 L594.57 364.04 L596.21 362.75 L597.84 361.44 L599.48 360.11 L601.13 358.76 L602.77 357.39 L604.41 356.00 L606.05 354.59 L607.70 353.16 L609.34 351.71 L610.99 350.24 L612.64 348.75 L614.28 347.24 L615.93 345.71 L617.58 344.16 L619.23 342.59 L620.88 341.00 L622.53 339.39 L624.18 337.76 L625.83 336.11 L627.48 334.44 L629.13 332.75 L630.78 331.04 L632.43 329.31 L634.08 327.56 L635.73 325.79 L637.38 324.00 L639.03 322.19 L640.68 320.36 L642.34 318.51 L643.99 316.64 L645.64 314.75 L647.29 312.84 L648.94 310.91 L650.59 308.96 L652.24 306.99 L653.90 305.00 L655.55 302.99 L657.20 300.96 L658.85 298.91 L660.50 296.84 L662.15 294.75 L663.81 292.64 L665.46 290.51 L667.11 288.36 L668.76 286.19 L670.41 284.00 L672.06 281.79 L673.72 279.56 L675.37 277.31 L677.02 275.04 L678.67 272.75 L680.32 270.44 L681.98 268.11 L683.63 265.76 L685.28 263.39 L686.93 261.00 L688.59 258.59 L690.24 256.16 L691.89 253.71 L693.55 251.24 L695.20 248.75 L696.86 246.24 L698.51 243.71 L700.17 241.16 L701.83 238.59 L703.48 236.00 L705.14 233.39 L706.80 230.76 L708.46 228.11 L710.12 225.44 L711.78 222.75 L713.44 220.04 L715.10 217.31 L716.77 214.56 L718.43 211.79 L720.10 209.00 L721.77 206.20 L723.44 203.37 L725.10 200.52 L726.78 197.65 L728.45 194.76 L730.12 191.85 L731.80 188.92 L733.48 185.97 L735.16 183.00 L736.84 180.01 L738.52 177.00 L740.20 173.97 L741.89 170.92 L743.58 167.85 L745.27 164.76 L746.97 161.65 L748.66 158.52 L750.36 155.37 L752.06 152.20 L753.77 149.01 L755.47 145.80 L757.18 142.57 L758.89 139.32 L760.61 136.05 L762.33 132.76 L764.05 129.45 L765.78 126.12 L767.51 122.77 L769.24 119.40 L770.97 116.01 L772.71 112.60 L774.46 109.17 L776.21 105.72 L777.96 102.25 L779.72 98.76 L781.48 95.25 L783.24 91.72 L785.01 88.17 L786.79 84.60 L788.57 81.01 L790.35 77.40 L792.14 73.77 L793.94 70.12 L795.74 66.45 L797.55 62.76 L799.36 59.05 L801.18 55.32 L803.00 51.57 L804.83 47.80 L806.67 44.01 L808.51 40.20 L810.36 36.37 L812.22 32.52 L814.08 28.65 L815.95 24.76 L817.83 20.85 L819.71 16.92 L821.60 12.97 L823.50 9.00" stroke="#ffaa00" stroke-width="3.4"/>
<g fill="#ee82ee" stroke="none"><circle cx="295.4" cy="186.3" r="8.5"/><circle cx="319.6" cy="204.3" r="8.5"/><circle cx="410.7" cy="238.8" r="8.5"/><circle cx="475.4" cy="254.9" r="8.5"/><circle cx="476.9" cy="270.6" r="8.5"/><circle cx="582.4" cy="240.2" r="8.5"/><circle cx="627.4" cy="209.6" r="8.5"/><circle cx="669.7" cy="169.4" r="8.5"/><circle cx="693.3" cy="141.5" r="8.5"/><circle cx="739.7" cy="75.2" r="8.5"/></g>
</g>
<g fill="#000"><rect x="117.4" y="5.9" width="3.7" height="490"/><rect x="117.4" y="5.9" width="757.5" height="4.8"/><rect x="869.2" y="5.9" width="5.7" height="490"/><rect x="117.4" y="491.9" width="757.5" height="4"/></g>
<g stroke="#000"><line x1="120" y1="170.9" x2="124.6" y2="170.9" stroke-width="1.8"/><line x1="120" y1="331.7" x2="124.6" y2="331.7" stroke-width="2.3"/><line x1="863.8" y1="171.4" x2="870" y2="171.4" stroke-width="1.8"/><line x1="863.8" y1="331.9" x2="870" y2="331.9" stroke-width="1.9"/></g>
<g stroke="#000" stroke-width="2.4"><line x1="104.2" y1="7.6" x2="118" y2="7.6"/><line x1="104.2" y1="88.7" x2="118" y2="88.7"/><line x1="104.2" y1="169.8" x2="118" y2="169.8"/><line x1="104.2" y1="250.8" x2="118" y2="250.8"/><line x1="104.2" y1="331.9" x2="118" y2="331.9"/><line x1="104.2" y1="413.0" x2="118" y2="413.0"/><line x1="104.2" y1="494.1" x2="118" y2="494.1"/></g>
<g stroke="#000" stroke-width="1.4"><line x1="194.4" y1="10" x2="194.4" y2="14.7"/><line x1="194.4" y1="492" x2="194.4" y2="487.5"/><line x1="346.2" y1="10" x2="346.2" y2="14.7"/><line x1="346.2" y1="492" x2="346.2" y2="487.5"/><line x1="648.2" y1="10" x2="648.2" y2="14.7"/><line x1="648.2" y1="492" x2="648.2" y2="487.5"/><line x1="800.0" y1="10" x2="800.0" y2="14.7"/><line x1="800.0" y1="492" x2="800.0" y2="487.5"/></g>
<g stroke="#000" stroke-width="2"><line x1="119.3" y1="494" x2="119.3" y2="499.7"/><line x1="495.9" y1="494" x2="495.9" y2="499.7"/><line x1="872.7" y1="494" x2="872.7" y2="499.7"/></g>
<g font-family="Liberation Serif, serif" font-size="36" fill="#000"><text transform="translate(100.2 24.5) scale(0.94 1)" font-size="37" text-anchor="end">0.0</text><text transform="translate(100.2 98.3) scale(0.94 1)" font-size="37" text-anchor="end">-0.5</text><text transform="translate(100.2 179.8) scale(0.94 1)" font-size="37" text-anchor="end">-1.0</text><text transform="translate(100.2 261.2) scale(0.94 1)" font-size="37" text-anchor="end">-1.5</text><text transform="translate(100.2 341.5) scale(0.94 1)" font-size="37" text-anchor="end">-2.0</text><text transform="translate(100.2 421.8) scale(0.94 1)" font-size="37" text-anchor="end">-2.5</text><text transform="translate(100.2 502.1) scale(0.94 1)" font-size="37" text-anchor="end">-3.0</text>
<text x="118.2" y="532" text-anchor="middle">N</text>
<text x="869.3" y="532" text-anchor="middle">N</text>
<text transform="translate(493.3 530.5) scale(0.815 1)" x="0" y="0" text-anchor="middle" font-weight="bold" stroke="#000" stroke-width="0.5">&#915;</text>
<text transform="translate(25.3 260) rotate(-90)" text-anchor="middle">Energy(eV)</text>
</g>
<rect x="246" y="15" width="64" height="51" fill="none" stroke="#fff" stroke-width="2"/>
<text x="280" y="52.7" text-anchor="middle" font-family="Liberation Serif, serif" font-weight="bold" font-size="36" fill="#fff">K</text>
<circle cx="147.1" cy="275.1" r="10.9" fill="#ff66dd"/>
<g stroke-width="3"><line x1="131.3" y1="307.4" x2="163.4" y2="307.4" stroke="#00b050"/>
<line x1="131.3" y1="343" x2="163.4" y2="343" stroke="#ffff00"/>
<line x1="131.3" y1="379.8" x2="163.4" y2="379.8" stroke="#ff0000"/>
<line x1="131.8" y1="424.2" x2="163.8" y2="424.2" stroke="#ffb800"/>
<line x1="132" y1="462.4" x2="164.5" y2="462.4" stroke="#ffffff" stroke-width="2.1"/></g>
<g font-family="Liberation Serif, serif" font-size="31" fill="#fff">
<text x="170.8" y="281.5">Expt.</text>
<text x="170.8" y="316.2">eDMFT</text>
<text x="170.8" y="352.7">G<tspan font-size="20" dy="7.3" dx="0.2">0</tspan><tspan dy="-7.3">W</tspan><tspan font-size="20" dy="7.3" dx="0.8">0</tspan></text>
<text x="170.8" y="388.4">LDA/mBJ</text>
<text x="171.5" y="432.8">YS-PBE0</text>
<text x="172.3" y="473.6">B3LYP</text>
</g>
</svg>
</body></html>
